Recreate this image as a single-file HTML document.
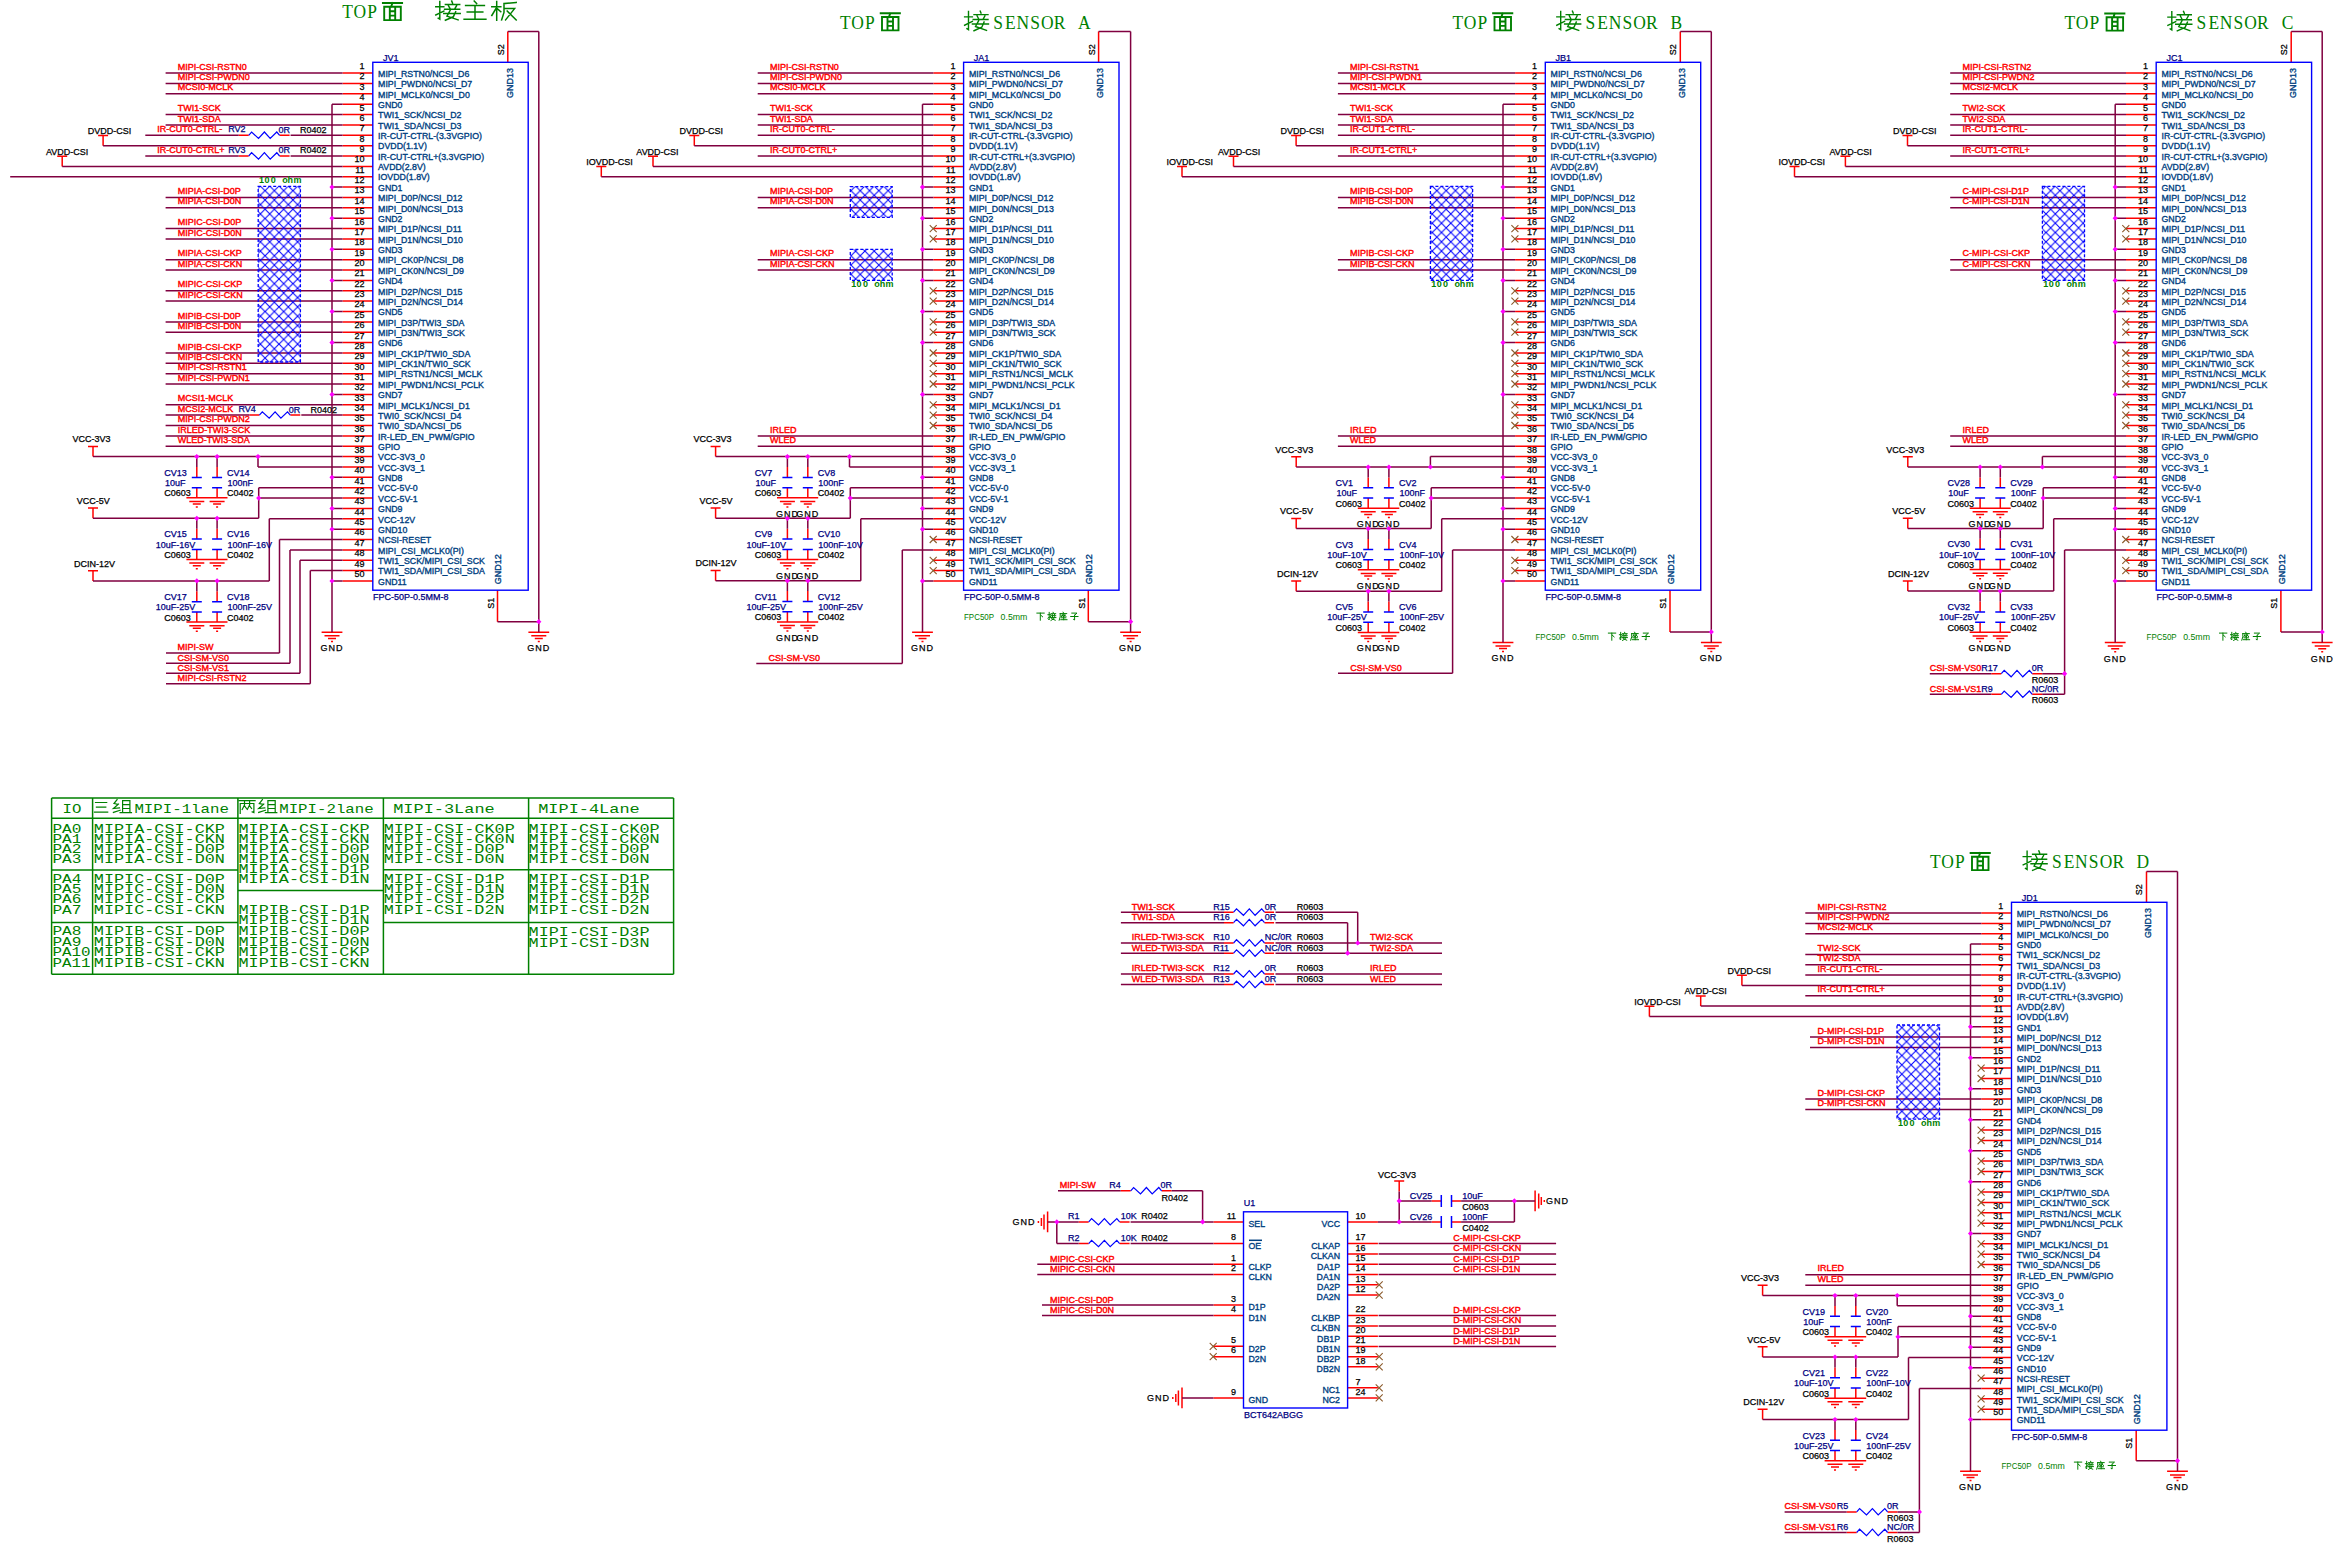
<!DOCTYPE html><html><head><meta charset="utf-8"><style>html,body{margin:0;padding:0;background:#fff;overflow:hidden;}svg{display:block}text{font-family:"Liberation Sans",sans-serif;font-size:9px}.t{font-family:"Liberation Serif",serif;font-size:19px;fill:#008000}.m{font-family:"Liberation Mono",monospace;font-size:13.2px;fill:#008000}</style></head><body>
<svg width="2340" height="1546" viewBox="0 0 2340 1546">
<defs><pattern id="hp" patternUnits="userSpaceOnUse" width="9.3" height="9.3" x="0" y="0"><path d="M0 0L9.3 9.3M9.3 0L0 9.3" stroke="#0000ff" stroke-width="1.05" fill="none"/></pattern></defs>
<rect width="2340" height="1546" fill="#fff"/>
<path d="M342.6 73.1H372.8M342.6 83.5H372.8M342.6 93.8H372.8M342.6 104.2H372.8M342.6 114.6H372.8M342.6 124.9H372.8M342.6 135.3H372.8M342.6 145.7H372.8M342.6 156H372.8M342.6 166.4H372.8M342.6 176.8H372.8M342.6 187.1H372.8M342.6 197.5H372.8M342.6 207.8H372.8M342.6 218.2H372.8M342.6 228.6H372.8M342.6 238.9H372.8M342.6 249.3H372.8M342.6 259.7H372.8M342.6 270H372.8M342.6 280.4H372.8M342.6 290.8H372.8M342.6 301.1H372.8M342.6 311.5H372.8M342.6 321.9H372.8M342.6 332.2H372.8M342.6 342.6H372.8M342.6 353H372.8M342.6 363.3H372.8M342.6 373.7H372.8M342.6 384H372.8M342.6 394.4H372.8M342.6 404.8H372.8M342.6 415.1H372.8M342.6 425.5H372.8M342.6 435.9H372.8M342.6 446.2H372.8M342.6 456.6H372.8M342.6 467H372.8M342.6 477.3H372.8M342.6 487.7H372.8M342.6 498.1H372.8M342.6 508.4H372.8M342.6 518.8H372.8M342.6 529.2H372.8M342.6 539.5H372.8M342.6 549.9H372.8M342.6 560.3H372.8M342.6 570.6H372.8M342.6 581H372.8M507.8 62.3V31.5M497.5 590.2V621.7M528.4 632.2H549.2M531.3 635.8H546.3M534.8 638.4H542.8M537.8 641.4H539.8M321.6 632.2H342.4M324.5 635.8H339.5M328 638.4H336M331 641.4H333M238.7 135.3H248.7M279.6 135.3H289.6M238.7 156H248.7M279.6 156H289.6M249.4 415.1H259.4M290.3 415.1H300.3M98.1 135.5H108.1M103.1 135.5V145.7M57.2 156.2H67.2M62.2 156.2V166.4M88 446.4H98M93 446.4V456.6M196.8 467V477.4M196.8 487.7V497.8M186.4 497.8H207.2M189.3 501.4H204.3M192.8 504H200.8M195.8 507H197.8M217.1 467V477.4M217.1 487.7V497.8M206.7 497.8H227.5M209.6 501.4H224.6M213.1 504H221.1M216.1 507H218.1M88 508.1H98M93 508.1V518.3M196.8 528.7V539.1M196.8 549.4V559.5M186.4 559.5H207.2M189.3 563.1H204.3M192.8 565.7H200.8M195.8 568.7H197.8M217.1 528.7V539.1M217.1 549.4V559.5M206.7 559.5H227.5M209.6 563.1H224.6M213.1 565.7H221.1M216.1 568.7H218.1M88 570.7H98M93 570.7V580.9M196.8 591.3V601.7M196.8 612V622.1M186.4 622.1H207.2M189.3 625.7H204.3M192.8 628.3H200.8M195.8 631.3H197.8M217.1 591.3V601.7M217.1 612V622.1M206.7 622.1H227.5M209.6 625.7H224.6M213.1 628.3H221.1M216.1 631.3H218.1M933.4 73.1H963.6M933.4 83.5H963.6M933.4 93.8H963.6M933.4 104.2H963.6M933.4 114.6H963.6M933.4 124.9H963.6M933.4 135.3H963.6M933.4 145.7H963.6M933.4 156H963.6M933.4 166.4H963.6M933.4 176.8H963.6M933.4 187.1H963.6M933.4 197.5H963.6M933.4 207.8H963.6M933.4 218.2H963.6M933.4 228.6H963.6M933.4 238.9H963.6M933.4 249.3H963.6M933.4 259.7H963.6M933.4 270H963.6M933.4 280.4H963.6M933.4 290.8H963.6M933.4 301.1H963.6M933.4 311.5H963.6M933.4 321.9H963.6M933.4 332.2H963.6M933.4 342.6H963.6M933.4 353H963.6M933.4 363.3H963.6M933.4 373.7H963.6M933.4 384H963.6M933.4 394.4H963.6M933.4 404.8H963.6M933.4 415.1H963.6M933.4 425.5H963.6M933.4 435.9H963.6M933.4 446.2H963.6M933.4 456.6H963.6M933.4 467H963.6M933.4 477.3H963.6M933.4 487.7H963.6M933.4 498.1H963.6M933.4 508.4H963.6M933.4 518.8H963.6M933.4 529.2H963.6M933.4 539.5H963.6M933.4 549.9H963.6M933.4 560.3H963.6M933.4 570.6H963.6M933.4 581H963.6M1098.6 62.3V31.5M1088.3 590.2V621.7M1120.2 632.2H1141M1123.1 635.8H1138.1M1126.6 638.4H1134.6M1129.6 641.4H1131.6M912.1 632.2H932.9M915 635.8H930M918.5 638.4H926.5M921.5 641.4H923.5M689.3 135.5H699.3M694.3 135.5V145.7M648 156.2H658M653 156.2V166.4M596.3 166.6H606.3M601.3 166.6V176.8M710.6 446.4H720.6M715.6 446.4V456.6M787.4 467V477.4M787.4 487.7V497.8M777 497.8H797.8M779.9 501.4H794.9M783.4 504H791.4M786.4 507H788.4M807.8 467V477.4M807.8 487.7V497.8M797.4 497.8H818.2M800.3 501.4H815.3M803.8 504H811.8M806.8 507H808.8M710.6 508.1H720.6M715.6 508.1V518.3M787.4 528.7V539.1M787.4 549.4V559.5M777 559.5H797.8M779.9 563.1H794.9M783.4 565.7H791.4M786.4 568.7H788.4M807.8 528.7V539.1M807.8 549.4V559.5M797.4 559.5H818.2M800.3 563.1H815.3M803.8 565.7H811.8M806.8 568.7H808.8M710.6 570.5H720.6M715.6 570.5V580.7M787.4 591.1V601.5M787.4 611.8V621.9M777 621.9H797.8M779.9 625.5H794.9M783.4 628.1H791.4M786.4 631.1H788.4M807.8 591.1V601.5M807.8 611.8V621.9M797.4 621.9H818.2M800.3 625.5H815.3M803.8 628.1H811.8M806.8 631.1H808.8M1515.1 73.1H1545.3M1515.1 83.5H1545.3M1515.1 93.8H1545.3M1515.1 104.2H1545.3M1515.1 114.6H1545.3M1515.1 124.9H1545.3M1515.1 135.3H1545.3M1515.1 145.7H1545.3M1515.1 156H1545.3M1515.1 166.4H1545.3M1515.1 176.8H1545.3M1515.1 187.1H1545.3M1515.1 197.5H1545.3M1515.1 207.8H1545.3M1515.1 218.2H1545.3M1515.1 228.6H1545.3M1515.1 238.9H1545.3M1515.1 249.3H1545.3M1515.1 259.7H1545.3M1515.1 270H1545.3M1515.1 280.4H1545.3M1515.1 290.8H1545.3M1515.1 301.1H1545.3M1515.1 311.5H1545.3M1515.1 321.9H1545.3M1515.1 332.2H1545.3M1515.1 342.6H1545.3M1515.1 353H1545.3M1515.1 363.3H1545.3M1515.1 373.7H1545.3M1515.1 384H1545.3M1515.1 394.4H1545.3M1515.1 404.8H1545.3M1515.1 415.1H1545.3M1515.1 425.5H1545.3M1515.1 435.9H1545.3M1515.1 446.2H1545.3M1515.1 456.6H1545.3M1515.1 467H1545.3M1515.1 477.3H1545.3M1515.1 487.7H1545.3M1515.1 498.1H1545.3M1515.1 508.4H1545.3M1515.1 518.8H1545.3M1515.1 529.2H1545.3M1515.1 539.5H1545.3M1515.1 549.9H1545.3M1515.1 560.3H1545.3M1515.1 570.6H1545.3M1515.1 581H1545.3M1680.3 62.3V31.5M1670 590.2V631.9M1700.9 642.4H1721.7M1703.8 646H1718.8M1707.3 648.6H1715.3M1710.3 651.6H1712.3M1492.6 642.4H1513.4M1495.5 646H1510.5M1499 648.6H1507M1502 651.6H1504M1291.1 135.5H1301.1M1296.1 135.5V145.7M1228.5 156.2H1238.5M1233.5 156.2V166.4M1177 166.6H1187M1182 166.6V176.8M1291.2 456.8H1301.2M1296.2 456.8V467M1368.2 477.4V487.8M1368.2 498.1V508.2M1357.8 508.2H1378.6M1360.7 511.8H1375.7M1364.2 514.4H1372.2M1367.2 517.4H1369.2M1388.9 477.4V487.8M1388.9 498.1V508.2M1378.5 508.2H1399.3M1381.4 511.8H1396.4M1384.9 514.4H1392.9M1387.9 517.4H1389.9M1291.2 518.4H1301.2M1296.2 518.4V528.6M1368.2 539V549.4M1368.2 559.7V569.8M1357.8 569.8H1378.6M1360.7 573.4H1375.7M1364.2 576H1372.2M1367.2 579H1369.2M1388.9 539V549.4M1388.9 559.7V569.8M1378.5 569.8H1399.3M1381.4 573.4H1396.4M1384.9 576H1392.9M1387.9 579H1389.9M1291.2 581H1301.2M1296.2 581V591.2M1368.2 601.6V612M1368.2 622.3V632.4M1357.8 632.4H1378.6M1360.7 636H1375.7M1364.2 638.6H1372.2M1367.2 641.6H1369.2M1388.9 601.6V612M1388.9 622.3V632.4M1378.5 632.4H1399.3M1381.4 636H1396.4M1384.9 638.6H1392.9M1387.9 641.6H1389.9M2126 73.1H2156.2M2126 83.5H2156.2M2126 93.8H2156.2M2126 104.2H2156.2M2126 114.6H2156.2M2126 124.9H2156.2M2126 135.3H2156.2M2126 145.7H2156.2M2126 156H2156.2M2126 166.4H2156.2M2126 176.8H2156.2M2126 187.1H2156.2M2126 197.5H2156.2M2126 207.8H2156.2M2126 218.2H2156.2M2126 228.6H2156.2M2126 238.9H2156.2M2126 249.3H2156.2M2126 259.7H2156.2M2126 270H2156.2M2126 280.4H2156.2M2126 290.8H2156.2M2126 301.1H2156.2M2126 311.5H2156.2M2126 321.9H2156.2M2126 332.2H2156.2M2126 342.6H2156.2M2126 353H2156.2M2126 363.3H2156.2M2126 373.7H2156.2M2126 384H2156.2M2126 394.4H2156.2M2126 404.8H2156.2M2126 415.1H2156.2M2126 425.5H2156.2M2126 435.9H2156.2M2126 446.2H2156.2M2126 456.6H2156.2M2126 467H2156.2M2126 477.3H2156.2M2126 487.7H2156.2M2126 498.1H2156.2M2126 508.4H2156.2M2126 518.8H2156.2M2126 529.2H2156.2M2126 539.5H2156.2M2126 549.9H2156.2M2126 560.3H2156.2M2126 570.6H2156.2M2126 581H2156.2M2291.2 62.3V31.5M2280.9 590.2V632M2311.8 642.5H2332.6M2314.7 646.1H2329.7M2318.2 648.7H2326.2M2321.2 651.7H2323.2M2104.8 642.5H2125.6M2107.7 646.1H2122.7M2111.2 648.7H2119.2M2114.2 651.7H2116.2M1902.5 135.5H1912.5M1907.5 135.5V145.7M1840.4 156.2H1850.4M1845.4 156.2V166.4M1789.5 166.6H1799.5M1794.5 166.6V176.8M1902.8 456.8H1912.8M1907.8 456.8V467M1980.1 477.4V487.8M1980.1 498.1V508.2M1969.7 508.2H1990.5M1972.6 511.8H1987.6M1976.1 514.4H1984.1M1979.1 517.4H1981.1M2000.3 477.4V487.8M2000.3 498.1V508.2M1989.9 508.2H2010.7M1992.8 511.8H2007.8M1996.3 514.4H2004.3M1999.3 517.4H2001.3M1902.8 518.2H1912.8M1907.8 518.2V528.4M1980.1 538.8V549.2M1980.1 559.5V569.6M1969.7 569.6H1990.5M1972.6 573.2H1987.6M1976.1 575.8H1984.1M1979.1 578.8H1981.1M2000.3 538.8V549.2M2000.3 559.5V569.6M1989.9 569.6H2010.7M1992.8 573.2H2007.8M1996.3 575.8H2004.3M1999.3 578.8H2001.3M1902.8 580.9H1912.8M1907.8 580.9V591.1M1980.1 601.5V611.9M1980.1 622.2V632.3M1969.7 632.3H1990.5M1972.6 635.9H1987.6M1976.1 638.5H1984.1M1979.1 641.5H1981.1M2000.3 601.5V611.9M2000.3 622.2V632.3M1989.9 632.3H2010.7M1992.8 635.9H2007.8M1996.3 638.5H2004.3M1999.3 641.5H2001.3M1991.3 673.7H2001.3M2032.2 673.7H2042.2M1991.3 694.3H2001.3M2032.2 694.3H2042.2M1981.3 913.1H2011.5M1981.3 923.4H2011.5M1981.3 933.8H2011.5M1981.3 944.1H2011.5M1981.3 954.4H2011.5M1981.3 964.8H2011.5M1981.3 975.1H2011.5M1981.3 985.4H2011.5M1981.3 995.8H2011.5M1981.3 1006.1H2011.5M1981.3 1016.5H2011.5M1981.3 1026.8H2011.5M1981.3 1037.1H2011.5M1981.3 1047.5H2011.5M1981.3 1057.8H2011.5M1981.3 1068.1H2011.5M1981.3 1078.5H2011.5M1981.3 1088.8H2011.5M1981.3 1099.1H2011.5M1981.3 1109.5H2011.5M1981.3 1119.8H2011.5M1981.3 1130.1H2011.5M1981.3 1140.5H2011.5M1981.3 1150.8H2011.5M1981.3 1161.1H2011.5M1981.3 1171.5H2011.5M1981.3 1181.8H2011.5M1981.3 1192.1H2011.5M1981.3 1202.5H2011.5M1981.3 1212.8H2011.5M1981.3 1223.2H2011.5M1981.3 1233.5H2011.5M1981.3 1243.8H2011.5M1981.3 1254.2H2011.5M1981.3 1264.5H2011.5M1981.3 1274.8H2011.5M1981.3 1285.2H2011.5M1981.3 1295.5H2011.5M1981.3 1305.8H2011.5M1981.3 1316.2H2011.5M1981.3 1326.5H2011.5M1981.3 1336.8H2011.5M1981.3 1347.2H2011.5M1981.3 1357.5H2011.5M1981.3 1367.8H2011.5M1981.3 1378.2H2011.5M1981.3 1388.5H2011.5M1981.3 1398.8H2011.5M1981.3 1409.2H2011.5M1981.3 1419.5H2011.5M2146.5 902.3V871.5M2136.2 1430.2V1460.8M2167.1 1471.3H2187.9M2170 1474.9H2185M2173.5 1477.5H2181.5M2176.5 1480.5H2178.5M1960.1 1471.3H1980.9M1963 1474.9H1978M1966.5 1477.5H1974.5M1969.5 1480.5H1971.5M1736.9 975.2H1746.9M1741.9 975.2V985.4M1695.7 995.9H1705.7M1700.7 995.9V1006.1M1644.4 1006.2H1654.4M1649.4 1006.2V1016.5M1757.6 1285.3H1767.6M1762.6 1285.3V1295.5M1835 1305.9V1316.3M1835 1326.6V1336.7M1824.6 1336.7H1845.4M1827.5 1340.3H1842.5M1831 1342.9H1839M1834 1345.9H1836M1855.8 1305.9V1316.3M1855.8 1326.6V1336.7M1845.4 1336.7H1866.2M1848.3 1340.3H1863.3M1851.8 1342.9H1859.8M1854.8 1345.9H1856.8M1757.6 1346.8H1767.6M1762.6 1346.8V1357M1835 1367.4V1377.8M1835 1388.1V1398.2M1824.6 1398.2H1845.4M1827.5 1401.8H1842.5M1831 1404.4H1839M1834 1407.4H1836M1855.8 1367.4V1377.8M1855.8 1388.1V1398.2M1845.4 1398.2H1866.2M1848.3 1401.8H1863.3M1851.8 1404.4H1859.8M1854.8 1407.4H1856.8M1757.6 1409.3H1767.6M1762.6 1409.3V1419.5M1835 1429.9V1440.3M1835 1450.6V1460.7M1824.6 1460.7H1845.4M1827.5 1464.3H1842.5M1831 1466.9H1839M1834 1469.9H1836M1855.8 1429.9V1440.3M1855.8 1450.6V1460.7M1845.4 1460.7H1866.2M1848.3 1464.3H1863.3M1851.8 1466.9H1859.8M1854.8 1469.9H1856.8M1846.7 1511.9H1856.7M1887.6 1511.9H1897.6M1846.7 1532.5H1856.7M1887.6 1532.5H1897.6M1224 912.2H1233.6M1264.5 912.2H1274.1M1224 922.7H1233.6M1264.5 922.7H1274.1M1224 943H1233.6M1264.5 943H1274.1M1224 953.2H1233.6M1264.5 953.2H1274.1M1224 974H1233.6M1264.5 974H1274.1M1224 984.5H1233.6M1264.5 984.5H1274.1M1213.5 1221.9H1243.5M1213.5 1243.6H1243.5M1213.5 1264.3H1243.5M1213.5 1274.6H1243.5M1213.5 1305.1H1243.5M1213.5 1315.5H1243.5M1213.5 1346.3H1243.5M1213.5 1356.7H1243.5M1213.5 1397.9H1243.5M1347.6 1221.9H1377.9M1347.6 1243.6H1377.9M1347.6 1254H1377.9M1347.6 1264.3H1377.9M1347.6 1274.6H1377.9M1347.6 1284.8H1377.9M1347.6 1295.1H1377.9M1347.6 1315.5H1377.9M1347.6 1325.9H1377.9M1347.6 1336.2H1377.9M1347.6 1346.4H1377.9M1347.6 1356.7H1377.9M1347.6 1366.8H1377.9M1347.6 1387.8H1377.9M1347.6 1397.9H1377.9M1120.7 1190.8H1130.7M1161.6 1190.8H1171.6M1047.6 1211.5V1232.3M1044 1214.4V1229.4M1041.4 1217.9V1225.9M1038.4 1220.9V1222.9M1078.7 1221.9H1088.7M1119.6 1221.9H1129.6M1078.7 1243.6H1088.7M1119.6 1243.6H1129.6M1182 1387.5V1408.3M1178.4 1390.4V1405.4M1175.8 1393.9V1401.9M1172.8 1396.9V1398.9M1394.2 1181H1404.2M1399.2 1181V1191.4M1431.7 1200.9H1441.3M1451.5 1200.9H1461.1M1431.7 1221.9H1441.3M1451.5 1221.9H1461.1M1535.1 1190.5V1211.3M1538.7 1193.4V1208.4M1541.3 1196.9V1204.9M1544.3 1199.9V1201.9" fill="none" stroke="#ff0000" stroke-width="1.5"/>
<path d="M507.8 31.5H538.8M538.8 31.5V632.2M497.5 621.7H538.8M332 104.2H342.6M332 187.1H342.6M332 218.2H342.6M332 249.3H342.6M332 280.4H342.6M332 311.5H342.6M332 342.6H342.6M332 394.4H342.6M332 477.3H342.6M332 508.4H342.6M332 529.2H342.6M332 581H342.6M332 104.2V632.2M165.6 73.1H342.6M165.6 83.5H342.6M165.6 93.8H342.6M165.6 114.6H342.6M165.6 124.9H342.6M165.6 197.5H342.6M165.6 207.8H342.6M165.6 228.6H342.6M165.6 238.9H342.6M165.6 259.7H342.6M165.6 270H342.6M165.6 290.8H342.6M165.6 301.1H342.6M165.6 321.9H342.6M165.6 332.2H342.6M165.6 353H342.6M165.6 363.3H342.6M165.6 373.7H342.6M165.6 384H342.6M165.6 404.8H342.6M165.6 425.5H342.6M165.6 435.9H342.6M165.6 446.2H342.6M145.3 135.3H238.7M290.6 135.3H342.6M145.3 156H238.7M290.6 156H342.6M165.6 415.1H249.4M301.3 415.1H342.6M103.1 145.7H342.6M62.2 166.4H342.6M10.2 176.8H342.6M93 456.6H342.6M258 456.6V467M258 467H342.6M196.8 456.6V467M217.1 456.6V467M93 518.3H258.7M258.7 487.7V518.3M258.7 487.7H342.6M258.7 498.1H342.6M196.8 518.3V528.7M217.1 518.3V528.7M93 580.9H269.3M269.3 518.8V580.9M269.3 518.8H342.6M196.8 580.9V591.3M217.1 580.9V591.3M279.5 539.5H342.6M279.5 539.5V653M166 653H279.5M290 549.9H342.6M290 549.9V663.2M166 663.2H290M300 560.3H342.6M300 560.3V673.2M166 673.2H300M310.3 570.6H342.6M310.3 570.6V683.7M166 683.7H310.3M1098.6 31.5H1130.6M1130.6 31.5V632.2M1088.3 621.7H1130.6M922.5 104.2H933.4M922.5 187.1H933.4M922.5 218.2H933.4M922.5 249.3H933.4M922.5 280.4H933.4M922.5 311.5H933.4M922.5 342.6H933.4M922.5 394.4H933.4M922.5 477.3H933.4M922.5 508.4H933.4M922.5 529.2H933.4M922.5 581H933.4M922.5 104.2V632.2M757.7 73.1H933.4M757.7 83.5H933.4M757.7 93.8H933.4M757.7 114.6H933.4M757.7 124.9H933.4M757.7 135.3H933.4M757.7 156H933.4M757.7 197.5H933.4M757.7 207.8H933.4M757.7 259.7H933.4M757.7 270H933.4M757.7 435.9H933.4M757.7 446.2H933.4M694.3 145.7H933.4M653 166.4H933.4M601.3 176.8H933.4M715.6 456.6H933.4M849.5 456.6V467M849.5 467H933.4M787.4 456.6V467M807.8 456.6V467M715.6 518.3H850.3M850.3 487.7V518.3M850.3 487.7H933.4M850.3 498.1H933.4M787.4 518.3V528.7M807.8 518.3V528.7M715.6 580.7H860.8M860.8 518.8V580.7M860.8 518.8H933.4M787.4 580.7V591.1M807.8 580.7V591.1M902.3 549.9H933.4M902.3 549.9V663.4M756.3 663.4H902.3M1680.3 31.5H1711.3M1711.3 31.5V642.4M1670 631.9H1711.3M1503 104.2H1515.1M1503 187.1H1515.1M1503 218.2H1515.1M1503 249.3H1515.1M1503 280.4H1515.1M1503 311.5H1515.1M1503 342.6H1515.1M1503 394.4H1515.1M1503 477.3H1515.1M1503 508.4H1515.1M1503 529.2H1515.1M1503 581H1515.1M1503 104.2V642.4M1337.9 73.1H1515.1M1337.9 83.5H1515.1M1337.9 93.8H1515.1M1337.9 114.6H1515.1M1337.9 124.9H1515.1M1337.9 135.3H1515.1M1337.9 156H1515.1M1337.9 197.5H1515.1M1337.9 207.8H1515.1M1337.9 259.7H1515.1M1337.9 270H1515.1M1337.9 435.9H1515.1M1337.9 446.2H1515.1M1296.1 145.7H1515.1M1233.5 166.4H1515.1M1182 176.8H1515.1M1296.2 467H1515.1M1430.4 456.6V467M1430.4 456.6H1515.1M1368.2 467V477.4M1388.9 467V477.4M1296.2 528.6H1431.2M1431.2 487.7V528.6M1431.2 487.7H1515.1M1431.2 498.1H1515.1M1368.2 528.6V539M1388.9 528.6V539M1296.2 591.2H1441.7M1441.7 518.8V591.2M1441.7 518.8H1515.1M1368.2 591.2V601.6M1388.9 591.2V601.6M1452.6 549.9H1515.1M1452.6 549.9V673.3M1338 673.3H1452.6M2291.2 31.5H2322.2M2322.2 31.5V642.5M2280.9 632H2322.2M2115.2 104.2H2126M2115.2 187.1H2126M2115.2 218.2H2126M2115.2 249.3H2126M2115.2 280.4H2126M2115.2 311.5H2126M2115.2 342.6H2126M2115.2 394.4H2126M2115.2 477.3H2126M2115.2 508.4H2126M2115.2 529.2H2126M2115.2 581H2126M2115.2 104.2V642.5M1950.2 73.1H2126M1950.2 83.5H2126M1950.2 93.8H2126M1950.2 114.6H2126M1950.2 124.9H2126M1950.2 135.3H2126M1950.2 156H2126M1950.2 197.5H2126M1950.2 207.8H2126M1950.2 259.7H2126M1950.2 270H2126M1950.2 435.9H2126M1950.2 446.2H2126M1907.5 145.7H2126M1845.4 166.4H2126M1794.5 176.8H2126M1907.8 467H2126M2042.4 456.6V467M2042.4 456.6H2126M1980.1 467V477.4M2000.3 467V477.4M1907.8 528.4H2043.2M2043.2 487.7V528.4M2043.2 487.7H2126M2043.2 498.1H2126M1980.1 528.4V538.8M2000.3 528.4V538.8M1907.8 591.1H2053.7M2053.7 518.8V591.1M2053.7 518.8H2126M1980.1 591.1V601.5M2000.3 591.1V601.5M2064.6 549.9H2126M2064.6 549.9V694.3M1929.8 673.7H1991.3M2042.2 673.7H2064.6M1929.8 694.3H1991.3M2042.2 694.3H2064.6M2146.5 871.5H2177.5M2177.5 871.5V1471.3M2136.2 1460.8H2177.5M1970.5 944.1H1981.3M1970.5 1026.8H1981.3M1970.5 1057.8H1981.3M1970.5 1088.8H1981.3M1970.5 1119.8H1981.3M1970.5 1150.8H1981.3M1970.5 1181.8H1981.3M1970.5 1233.5H1981.3M1970.5 1316.2H1981.3M1970.5 1347.2H1981.3M1970.5 1367.8H1981.3M1970.5 1419.5H1981.3M1970.5 944.1V1471.3M1805.3 913.1H1981.3M1805.3 923.4H1981.3M1805.3 933.8H1981.3M1805.3 954.4H1981.3M1805.3 964.8H1981.3M1805.3 975.1H1981.3M1805.3 995.8H1981.3M1810 1037.1H1981.3M1810 1047.5H1981.3M1805.3 1099.1H1981.3M1805.3 1109.5H1981.3M1805.3 1274.8H1981.3M1805.3 1285.2H1981.3M1741.9 985.4H1981.3M1700.7 1006.1H1981.3M1649.4 1016.5H1981.3M1762.6 1295.5H1981.3M1897.2 1295.5V1305.8M1897.2 1305.8H1981.3M1835 1295.5V1305.9M1855.8 1295.5V1305.9M1762.6 1357H1898M1898 1326.5V1357M1898 1326.5H1981.3M1898 1336.8H1981.3M1835 1357V1367.4M1855.8 1357V1367.4M1762.6 1419.5H1908.5M1908.5 1357.5V1419.5M1908.5 1357.5H1981.3M1835 1419.5V1429.9M1855.8 1419.5V1429.9M1919.4 1388.5H1981.3M1919.4 1388.5V1532.5M1784.6 1511.9H1846.7M1897.6 1511.9H1919.4M1784.6 1532.5H1846.7M1897.6 1532.5H1919.4M1120.9 912.2H1224M1275.5 912.2H1357.7M1357.7 912.2V943M1120.9 922.7H1224M1275.5 922.7H1347.6M1347.6 922.7V953.2M1120.9 943H1224M1275.5 943H1442M1120.9 953.2H1224M1275.5 953.2H1442M1120.9 974H1224M1275.5 974H1442M1120.9 984.5H1224M1275.5 984.5H1442M1378.6 1243.6H1556.1M1378.6 1254H1556.1M1378.6 1264.3H1556.1M1378.6 1274.6H1556.1M1378.6 1315.5H1556.1M1378.6 1325.9H1556.1M1378.6 1336.2H1556.1M1378.6 1346.4H1556.1M1037.3 1264.3H1213.5M1037.3 1274.6H1213.5M1042 1305.1H1213.5M1042 1315.5H1213.5M1058 1190.8H1120.7M1171.6 1190.8H1202.6M1202.6 1190.8V1221.9M1047.6 1221.9H1078.7M1056.8 1221.9V1243.6M1056.8 1243.6H1078.7M1130.6 1221.9H1213.5M1130.6 1243.6H1213.5M1182 1397.9H1213.5M1399.2 1191.4V1221.9M1377.9 1221.9H1431.7M1399.2 1200.9H1431.7M1461.1 1200.9H1514.4M1461.1 1221.9H1514.4M1514.4 1200.9V1221.9M1514.4 1200.9H1535.1" fill="none" stroke="#800040" stroke-width="1.5"/>
<path d="M191.8 477.4H201.8M191.8 487.7H201.8M212.1 477.4H222.1M212.1 487.7H222.1M191.8 539.1H201.8M191.8 549.4H201.8M212.1 539.1H222.1M212.1 549.4H222.1M191.8 601.7H201.8M191.8 612H201.8M212.1 601.7H222.1M212.1 612H222.1M782.4 477.4H792.4M782.4 487.7H792.4M802.8 477.4H812.8M802.8 487.7H812.8M782.4 539.1H792.4M782.4 549.4H792.4M802.8 539.1H812.8M802.8 549.4H812.8M782.4 601.5H792.4M782.4 611.8H792.4M802.8 601.5H812.8M802.8 611.8H812.8M1363.2 487.8H1373.2M1363.2 498.1H1373.2M1383.9 487.8H1393.9M1383.9 498.1H1393.9M1363.2 549.4H1373.2M1363.2 559.7H1373.2M1383.9 549.4H1393.9M1383.9 559.7H1393.9M1363.2 612H1373.2M1363.2 622.3H1373.2M1383.9 612H1393.9M1383.9 622.3H1393.9M1975.1 487.8H1985.1M1975.1 498.1H1985.1M1995.3 487.8H2005.3M1995.3 498.1H2005.3M1975.1 549.2H1985.1M1975.1 559.5H1985.1M1995.3 549.2H2005.3M1995.3 559.5H2005.3M1975.1 611.9H1985.1M1975.1 622.2H1985.1M1995.3 611.9H2005.3M1995.3 622.2H2005.3M1830 1316.3H1840M1830 1326.6H1840M1850.8 1316.3H1860.8M1850.8 1326.6H1860.8M1830 1377.8H1840M1830 1388.1H1840M1850.8 1377.8H1860.8M1850.8 1388.1H1860.8M1830 1440.3H1840M1830 1450.6H1840M1850.8 1440.3H1860.8M1850.8 1450.6H1860.8M1441.3 1194.9V1206.9M1451.5 1194.9V1206.9M1441.3 1215.9V1227.9M1451.5 1215.9V1227.9" fill="none" stroke="#0000ff" stroke-width="1.5"/>
<path d="M51.6 798H673.6M51.6 818.3H673.6M51.6 974.2H673.6M51.6 798V974.2M92.6 798V974.2M237.9 798V974.2M383.4 798V974.2M528.6 798V974.2M673.6 798V974.2M51.6 869.9H237.9M51.6 922.5H237.9M237.9 890.4H383.4M383.4 869.8H673.6M383.4 922.4H673.6" fill="none" stroke="#008000" stroke-width="1.5"/>
<path d="M1249 1240.3H1262" fill="none" stroke="#00407f" stroke-width="1.5"/>
<rect x="372.8" y="62.3" width="155.4" height="527.9" fill="none" stroke="#0000ff" stroke-width="1.4"/>
<path d="M382.9 3 L402.1 3M392.5 3 L391.1 6.7M384.2 6.7 L400.8 6.7 L400.8 20.1M384.2 6.7 L384.2 20.1 L400.8 20.1M389.8 6.7 L389.8 20.1M395.2 6.7 L395.2 20.1M389.8 11.2 L395.2 11.2M389.8 15.6 L395.2 15.6" fill="none" stroke="#008000" stroke-width="1.9" stroke-linecap="square"/>
<path d="M435.8 6.8 L443.8 6.8M439.8 1.5 L439.8 19.2 L438.2 18.2M435.8 14.9 L443.8 11.1M451.7 1.1 L452.5 3M445.4 4.5 L459.7 4.5M448.5 5.8 L450.1 8.6M456.5 5.8 L454.9 8.6M444.6 9.2 L459.7 9.2M443.8 13.6 L460.2 13.6M450.1 10.5 L447 16.1 L458.1 19.9M455.7 11.8 L453.3 16.8 L445.4 20.2" fill="none" stroke="#008000" stroke-width="1.5" stroke-linecap="square"/>
<path d="M474.2 1.1 L476.6 3.6M465.6 5.5 L484.4 5.5M467.2 12 L482.8 12M464.1 19.2 L485.9 19.2M475 5.5 L475 19.2" fill="none" stroke="#008000" stroke-width="1.5" stroke-linecap="square"/>
<path d="M491.8 6.8 L500.8 6.8M496.7 1.5 L496.7 20.2M496.7 7.4 L491.8 15.5M497.2 8.6 L500.8 11.8M504 3.6 L516.2 2.4M504 3.6 L504 12.4 L501.6 19.9M504.8 8.6 L514.6 8.6 L505.6 19.9M507.2 11.1 L516.2 19.9" fill="none" stroke="#008000" stroke-width="1.5" stroke-linecap="square"/>
<path d="M248.7 135.3 L251.6 132 L258.5 138.4 L264.4 132 L270.2 138.4 L276.8 132 L279.6 135.3" fill="none" stroke="#0000ff" stroke-width="1.2"/>
<path d="M248.7 156 L251.6 152.7 L258.5 159.1 L264.4 152.7 L270.2 159.1 L276.8 152.7 L279.6 156" fill="none" stroke="#0000ff" stroke-width="1.2"/>
<path d="M259.4 415.1 L262.3 411.8 L269.2 418.2 L275.1 411.8 L280.9 418.2 L287.5 411.8 L290.3 415.1" fill="none" stroke="#0000ff" stroke-width="1.2"/>
<rect x="258.2" y="186.4" width="42.2" height="175.6" fill="url(#hp)" stroke="#0000ff" stroke-width="1.3" stroke-dasharray="3 2"/>
<path d="M880.7 13.3 L899.9 13.3M890.3 13.3 L888.9 17M882 17 L898.5 17 L898.5 30.4M882 17 L882 30.4 L898.5 30.4M887.5 17 L887.5 30.4M893 17 L893 30.4M887.5 21.5 L893 21.5M887.5 25.9 L893 25.9" fill="none" stroke="#008000" stroke-width="1.9" stroke-linecap="square"/>
<path d="M964.6 16.9 L972.4 16.9M968.5 11.5 L968.5 29.7 L966.9 28.7M964.6 25.2 L972.4 21.4M980.2 11.1 L981 13.1M974 14.6 L988 14.6M977.1 15.9 L978.6 18.8M984.9 15.9 L983.3 18.8M973.2 19.5 L988 19.5M972.4 24 L988.5 24M978.6 20.8 L975.5 26.5 L986.5 30.4M984.1 22 L981.8 27.2 L974 30.7" fill="none" stroke="#008000" stroke-width="1.4" stroke-linecap="square"/>
<rect x="963.6" y="62.3" width="155.4" height="527.9" fill="none" stroke="#0000ff" stroke-width="1.4"/>
<path d="M1036.9 613.1 L1044.2 613.1M1040.3 613.1 L1040.3 620.2M1040.8 615.2 L1042.6 616.8" fill="none" stroke="#008000" stroke-width="1" stroke-linecap="square"/>
<path d="M1047.9 614.7 L1050.5 614.7M1049.2 612.4 L1049.2 620 L1048.7 619.5M1047.9 618.1 L1050.5 616.5M1053.1 612.3 L1053.4 613.1M1051 613.7 L1055.7 613.7M1052.1 614.2 L1052.6 615.5M1054.7 614.2 L1054.2 615.5M1050.8 615.7 L1055.7 615.7M1050.5 617.6 L1055.9 617.6M1052.6 616.2 L1051.6 618.6 L1055.2 620.2M1054.4 616.8 L1053.6 618.9 L1051 620.4" fill="none" stroke="#008000" stroke-width="1" stroke-linecap="square"/>
<path d="M1063.1 612.2 L1063.6 613.1M1060.2 613.6 L1066.7 613.6M1060.2 613.6 L1060.2 616.8 L1059.2 620.2M1062.3 614.7 L1061.3 616.8M1062.3 615.2 L1063.1 616.5M1064.9 614.7 L1063.9 616.8M1064.9 615.2 L1065.9 616.5M1063.7 614.4 L1063.7 619.7M1061.5 617.8 L1065.9 617.8M1060.8 619.7 L1067 619.7" fill="none" stroke="#008000" stroke-width="1" stroke-linecap="square"/>
<path d="M1071.8 613.1 L1077 613.1 L1074.6 615.2M1074.6 615.2 L1074.6 620 L1073.6 619.4M1070.7 616.5 L1078 616.5" fill="none" stroke="#008000" stroke-width="1" stroke-linecap="square"/>
<rect x="850.3" y="186.6" width="41.9" height="30.8" fill="url(#hp)" stroke="#0000ff" stroke-width="1.3" stroke-dasharray="3 2"/>
<rect x="850.3" y="249.4" width="41.9" height="30.9" fill="url(#hp)" stroke="#0000ff" stroke-width="1.3" stroke-dasharray="3 2"/>
<path d="M929.7 225.1l7 7M929.7 232.1l7 -7" stroke="#8b5a2b" stroke-width="1.1"/>
<path d="M929.7 235.4l7 7M929.7 242.4l7 -7" stroke="#8b5a2b" stroke-width="1.1"/>
<path d="M929.7 287.3l7 7M929.7 294.3l7 -7" stroke="#8b5a2b" stroke-width="1.1"/>
<path d="M929.7 297.6l7 7M929.7 304.6l7 -7" stroke="#8b5a2b" stroke-width="1.1"/>
<path d="M929.7 318.4l7 7M929.7 325.4l7 -7" stroke="#8b5a2b" stroke-width="1.1"/>
<path d="M929.7 328.7l7 7M929.7 335.7l7 -7" stroke="#8b5a2b" stroke-width="1.1"/>
<path d="M929.7 349.5l7 7M929.7 356.5l7 -7" stroke="#8b5a2b" stroke-width="1.1"/>
<path d="M929.7 359.8l7 7M929.7 366.8l7 -7" stroke="#8b5a2b" stroke-width="1.1"/>
<path d="M929.7 370.2l7 7M929.7 377.2l7 -7" stroke="#8b5a2b" stroke-width="1.1"/>
<path d="M929.7 380.5l7 7M929.7 387.5l7 -7" stroke="#8b5a2b" stroke-width="1.1"/>
<path d="M929.7 401.3l7 7M929.7 408.3l7 -7" stroke="#8b5a2b" stroke-width="1.1"/>
<path d="M929.7 411.6l7 7M929.7 418.6l7 -7" stroke="#8b5a2b" stroke-width="1.1"/>
<path d="M929.7 422l7 7M929.7 429l7 -7" stroke="#8b5a2b" stroke-width="1.1"/>
<path d="M929.7 536l7 7M929.7 543l7 -7" stroke="#8b5a2b" stroke-width="1.1"/>
<path d="M929.7 556.8l7 7M929.7 563.8l7 -7" stroke="#8b5a2b" stroke-width="1.1"/>
<path d="M929.7 567.1l7 7M929.7 574.1l7 -7" stroke="#8b5a2b" stroke-width="1.1"/>
<path d="M1493.1 13.3 L1512.3 13.3M1502.7 13.3 L1501.3 17M1494.5 17 L1511 17 L1511 30.4M1494.5 17 L1494.5 30.4 L1511 30.4M1500 17 L1500 30.4M1505.5 17 L1505.5 30.4M1500 21.5 L1505.5 21.5M1500 25.9 L1505.5 25.9" fill="none" stroke="#008000" stroke-width="1.9" stroke-linecap="square"/>
<path d="M1556.8 16.9 L1564.6 16.9M1560.7 11.5 L1560.7 29.7 L1559.1 28.7M1556.8 25.2 L1564.6 21.4M1572.4 11.1 L1573.2 13.1M1566.2 14.6 L1580.2 14.6M1569.3 15.9 L1570.8 18.8M1577.1 15.9 L1575.5 18.8M1565.4 19.5 L1580.2 19.5M1564.6 24 L1580.7 24M1570.8 20.8 L1567.7 26.5 L1578.7 30.4M1576.3 22 L1574 27.2 L1566.2 30.7" fill="none" stroke="#008000" stroke-width="1.4" stroke-linecap="square"/>
<rect x="1545.3" y="62.3" width="155.4" height="527.9" fill="none" stroke="#0000ff" stroke-width="1.4"/>
<path d="M1608.4 633.1 L1615.7 633.1M1611.8 633.1 L1611.8 640.2M1612.3 635.2 L1614.1 636.8" fill="none" stroke="#008000" stroke-width="1" stroke-linecap="square"/>
<path d="M1619.4 634.7 L1622 634.7M1620.7 632.4 L1620.7 640 L1620.2 639.5M1619.4 638.1 L1622 636.5M1624.6 632.3 L1624.9 633.1M1622.5 633.7 L1627.2 633.7M1623.6 634.2 L1624.1 635.5M1626.2 634.2 L1625.7 635.5M1622.3 635.7 L1627.2 635.7M1622 637.6 L1627.4 637.6M1624.1 636.2 L1623.1 638.6 L1626.7 640.2M1625.9 636.8 L1625.1 638.9 L1622.5 640.4" fill="none" stroke="#008000" stroke-width="1" stroke-linecap="square"/>
<path d="M1634.6 632.2 L1635.1 633.1M1631.7 633.6 L1638.2 633.6M1631.7 633.6 L1631.7 636.8 L1630.7 640.2M1633.8 634.7 L1632.8 636.8M1633.8 635.2 L1634.6 636.5M1636.4 634.7 L1635.4 636.8M1636.4 635.2 L1637.4 636.5M1635.2 634.4 L1635.2 639.7M1633 637.8 L1637.4 637.8M1632.3 639.7 L1638.5 639.7" fill="none" stroke="#008000" stroke-width="1" stroke-linecap="square"/>
<path d="M1643.3 633.1 L1648.5 633.1 L1646.1 635.2M1646.1 635.2 L1646.1 640 L1645.1 639.4M1642.2 636.5 L1649.5 636.5" fill="none" stroke="#008000" stroke-width="1" stroke-linecap="square"/>
<rect x="1430.4" y="186.3" width="42.2" height="94.1" fill="url(#hp)" stroke="#0000ff" stroke-width="1.3" stroke-dasharray="3 2"/>
<path d="M1511.4 225.1l7 7M1511.4 232.1l7 -7" stroke="#8b5a2b" stroke-width="1.1"/>
<path d="M1511.4 235.4l7 7M1511.4 242.4l7 -7" stroke="#8b5a2b" stroke-width="1.1"/>
<path d="M1511.4 287.3l7 7M1511.4 294.3l7 -7" stroke="#8b5a2b" stroke-width="1.1"/>
<path d="M1511.4 297.6l7 7M1511.4 304.6l7 -7" stroke="#8b5a2b" stroke-width="1.1"/>
<path d="M1511.4 318.4l7 7M1511.4 325.4l7 -7" stroke="#8b5a2b" stroke-width="1.1"/>
<path d="M1511.4 328.7l7 7M1511.4 335.7l7 -7" stroke="#8b5a2b" stroke-width="1.1"/>
<path d="M1511.4 349.5l7 7M1511.4 356.5l7 -7" stroke="#8b5a2b" stroke-width="1.1"/>
<path d="M1511.4 359.8l7 7M1511.4 366.8l7 -7" stroke="#8b5a2b" stroke-width="1.1"/>
<path d="M1511.4 370.2l7 7M1511.4 377.2l7 -7" stroke="#8b5a2b" stroke-width="1.1"/>
<path d="M1511.4 380.5l7 7M1511.4 387.5l7 -7" stroke="#8b5a2b" stroke-width="1.1"/>
<path d="M1511.4 401.3l7 7M1511.4 408.3l7 -7" stroke="#8b5a2b" stroke-width="1.1"/>
<path d="M1511.4 411.6l7 7M1511.4 418.6l7 -7" stroke="#8b5a2b" stroke-width="1.1"/>
<path d="M1511.4 422l7 7M1511.4 429l7 -7" stroke="#8b5a2b" stroke-width="1.1"/>
<path d="M1511.4 536l7 7M1511.4 543l7 -7" stroke="#8b5a2b" stroke-width="1.1"/>
<path d="M1511.4 556.8l7 7M1511.4 563.8l7 -7" stroke="#8b5a2b" stroke-width="1.1"/>
<path d="M1511.4 567.1l7 7M1511.4 574.1l7 -7" stroke="#8b5a2b" stroke-width="1.1"/>
<path d="M2105.2 13.5 L2124.4 13.5M2114.8 13.5 L2113.4 17.2M2106.6 17.2 L2123.1 17.2 L2123.1 30.6M2106.6 17.2 L2106.6 30.6 L2123.1 30.6M2112.1 17.2 L2112.1 30.6M2117.6 17.2 L2117.6 30.6M2112.1 21.7 L2117.6 21.7M2112.1 26.1 L2117.6 26.1" fill="none" stroke="#008000" stroke-width="1.9" stroke-linecap="square"/>
<path d="M2167.9 17.1 L2175.7 17.1M2171.8 11.7 L2171.8 29.9 L2170.2 28.9M2167.9 25.4 L2175.7 21.6M2183.5 11.3 L2184.3 13.3M2177.3 14.8 L2191.3 14.8M2180.4 16.1 L2181.9 19M2188.2 16.1 L2186.6 19M2176.5 19.7 L2191.3 19.7M2175.7 24.2 L2191.8 24.2M2181.9 20.9 L2178.8 26.7 L2189.8 30.6M2187.4 22.2 L2185.1 27.4 L2177.3 30.9" fill="none" stroke="#008000" stroke-width="1.4" stroke-linecap="square"/>
<rect x="2156.2" y="62.3" width="155.4" height="527.9" fill="none" stroke="#0000ff" stroke-width="1.4"/>
<path d="M2219.5 633.1 L2226.8 633.1M2222.9 633.1 L2222.9 640.2M2223.4 635.2 L2225.2 636.8" fill="none" stroke="#008000" stroke-width="1" stroke-linecap="square"/>
<path d="M2230.5 634.7 L2233.1 634.7M2231.8 632.4 L2231.8 640 L2231.3 639.5M2230.5 638.1 L2233.1 636.5M2235.7 632.3 L2236 633.1M2233.6 633.7 L2238.3 633.7M2234.7 634.2 L2235.2 635.5M2237.3 634.2 L2236.8 635.5M2233.4 635.7 L2238.3 635.7M2233.1 637.6 L2238.5 637.6M2235.2 636.2 L2234.2 638.6 L2237.8 640.2M2237 636.8 L2236.2 638.9 L2233.6 640.4" fill="none" stroke="#008000" stroke-width="1" stroke-linecap="square"/>
<path d="M2245.7 632.2 L2246.2 633.1M2242.8 633.6 L2249.3 633.6M2242.8 633.6 L2242.8 636.8 L2241.8 640.2M2244.9 634.7 L2243.9 636.8M2244.9 635.2 L2245.7 636.5M2247.5 634.7 L2246.5 636.8M2247.5 635.2 L2248.5 636.5M2246.3 634.4 L2246.3 639.7M2244.1 637.8 L2248.5 637.8M2243.4 639.7 L2249.6 639.7" fill="none" stroke="#008000" stroke-width="1" stroke-linecap="square"/>
<path d="M2254.4 633.1 L2259.6 633.1 L2257.2 635.2M2257.2 635.2 L2257.2 640 L2256.2 639.4M2253.3 636.5 L2260.6 636.5" fill="none" stroke="#008000" stroke-width="1" stroke-linecap="square"/>
<rect x="2042.4" y="186.3" width="42.1" height="94.1" fill="url(#hp)" stroke="#0000ff" stroke-width="1.3" stroke-dasharray="3 2"/>
<path d="M2122.3 225.1l7 7M2122.3 232.1l7 -7" stroke="#8b5a2b" stroke-width="1.1"/>
<path d="M2122.3 235.4l7 7M2122.3 242.4l7 -7" stroke="#8b5a2b" stroke-width="1.1"/>
<path d="M2122.3 287.3l7 7M2122.3 294.3l7 -7" stroke="#8b5a2b" stroke-width="1.1"/>
<path d="M2122.3 297.6l7 7M2122.3 304.6l7 -7" stroke="#8b5a2b" stroke-width="1.1"/>
<path d="M2122.3 318.4l7 7M2122.3 325.4l7 -7" stroke="#8b5a2b" stroke-width="1.1"/>
<path d="M2122.3 328.7l7 7M2122.3 335.7l7 -7" stroke="#8b5a2b" stroke-width="1.1"/>
<path d="M2122.3 349.5l7 7M2122.3 356.5l7 -7" stroke="#8b5a2b" stroke-width="1.1"/>
<path d="M2122.3 359.8l7 7M2122.3 366.8l7 -7" stroke="#8b5a2b" stroke-width="1.1"/>
<path d="M2122.3 370.2l7 7M2122.3 377.2l7 -7" stroke="#8b5a2b" stroke-width="1.1"/>
<path d="M2122.3 380.5l7 7M2122.3 387.5l7 -7" stroke="#8b5a2b" stroke-width="1.1"/>
<path d="M2122.3 401.3l7 7M2122.3 408.3l7 -7" stroke="#8b5a2b" stroke-width="1.1"/>
<path d="M2122.3 411.6l7 7M2122.3 418.6l7 -7" stroke="#8b5a2b" stroke-width="1.1"/>
<path d="M2122.3 422l7 7M2122.3 429l7 -7" stroke="#8b5a2b" stroke-width="1.1"/>
<path d="M2122.3 536l7 7M2122.3 543l7 -7" stroke="#8b5a2b" stroke-width="1.1"/>
<path d="M2122.3 556.8l7 7M2122.3 563.8l7 -7" stroke="#8b5a2b" stroke-width="1.1"/>
<path d="M2122.3 567.1l7 7M2122.3 574.1l7 -7" stroke="#8b5a2b" stroke-width="1.1"/>
<path d="M2001.3 673.7 L2004.2 670.4 L2011.1 676.8 L2017 670.4 L2022.8 676.8 L2029.4 670.4 L2032.2 673.7" fill="none" stroke="#0000ff" stroke-width="1.2"/>
<path d="M2001.3 694.3 L2004.2 691 L2011.1 697.4 L2017 691 L2022.8 697.4 L2029.4 691 L2032.2 694.3" fill="none" stroke="#0000ff" stroke-width="1.2"/>
<path d="M1970.6 853 L1989.8 853M1980.2 853 L1978.8 856.7M1972 856.7 L1988.5 856.7 L1988.5 870.1M1972 856.7 L1972 870.1 L1988.5 870.1M1977.5 856.7 L1977.5 870.1M1983 856.7 L1983 870.1M1977.5 861.2 L1983 861.2M1977.5 865.6 L1983 865.6" fill="none" stroke="#008000" stroke-width="1.9" stroke-linecap="square"/>
<path d="M2023.2 856.6 L2031 856.6M2027.1 851.2 L2027.1 869.4 L2025.5 868.4M2023.2 864.9 L2031 861.1M2038.8 850.8 L2039.6 852.8M2032.6 854.3 L2046.6 854.3M2035.7 855.6 L2037.2 858.5M2043.5 855.6 L2041.9 858.5M2031.8 859.2 L2046.6 859.2M2031 863.7 L2047.1 863.7M2037.2 860.5 L2034.1 866.2 L2045.1 870.1M2042.7 861.7 L2040.4 866.9 L2032.6 870.4" fill="none" stroke="#008000" stroke-width="1.4" stroke-linecap="square"/>
<rect x="2011.5" y="902.3" width="155.4" height="527.9" fill="none" stroke="#0000ff" stroke-width="1.4"/>
<path d="M2074.4 1462.1 L2081.7 1462.1M2077.8 1462.1 L2077.8 1469.2M2078.3 1464.2 L2080.1 1465.8" fill="none" stroke="#008000" stroke-width="1" stroke-linecap="square"/>
<path d="M2085.4 1463.7 L2088 1463.7M2086.7 1461.4 L2086.7 1469 L2086.2 1468.5M2085.4 1467.1 L2088 1465.5M2090.6 1461.3 L2090.9 1462.1M2088.5 1462.7 L2093.2 1462.7M2089.6 1463.2 L2090.1 1464.5M2092.2 1463.2 L2091.7 1464.5M2088.3 1464.7 L2093.2 1464.7M2088 1466.6 L2093.4 1466.6M2090.1 1465.2 L2089.1 1467.6 L2092.7 1469.2M2091.9 1465.8 L2091.1 1467.9 L2088.5 1469.4" fill="none" stroke="#008000" stroke-width="1" stroke-linecap="square"/>
<path d="M2100.6 1461.2 L2101.1 1462.1M2097.7 1462.6 L2104.2 1462.6M2097.7 1462.6 L2097.7 1465.8 L2096.7 1469.2M2099.8 1463.7 L2098.8 1465.8M2099.8 1464.2 L2100.6 1465.5M2102.4 1463.7 L2101.4 1465.8M2102.4 1464.2 L2103.4 1465.5M2101.2 1463.4 L2101.2 1468.7M2099 1466.8 L2103.4 1466.8M2098.3 1468.7 L2104.5 1468.7" fill="none" stroke="#008000" stroke-width="1" stroke-linecap="square"/>
<path d="M2109.3 1462.1 L2114.5 1462.1 L2112.1 1464.2M2112.1 1464.2 L2112.1 1469 L2111.1 1468.4M2108.2 1465.5 L2115.5 1465.5" fill="none" stroke="#008000" stroke-width="1" stroke-linecap="square"/>
<rect x="1897" y="1025" width="42.5" height="94.2" fill="url(#hp)" stroke="#0000ff" stroke-width="1.3" stroke-dasharray="3 2"/>
<path d="M1977.6 1064.6l7 7M1977.6 1071.6l7 -7" stroke="#8b5a2b" stroke-width="1.1"/>
<path d="M1977.6 1075l7 7M1977.6 1082l7 -7" stroke="#8b5a2b" stroke-width="1.1"/>
<path d="M1977.6 1126.6l7 7M1977.6 1133.6l7 -7" stroke="#8b5a2b" stroke-width="1.1"/>
<path d="M1977.6 1137l7 7M1977.6 1144l7 -7" stroke="#8b5a2b" stroke-width="1.1"/>
<path d="M1977.6 1157.6l7 7M1977.6 1164.6l7 -7" stroke="#8b5a2b" stroke-width="1.1"/>
<path d="M1977.6 1168l7 7M1977.6 1175l7 -7" stroke="#8b5a2b" stroke-width="1.1"/>
<path d="M1977.6 1188.6l7 7M1977.6 1195.6l7 -7" stroke="#8b5a2b" stroke-width="1.1"/>
<path d="M1977.6 1199l7 7M1977.6 1206l7 -7" stroke="#8b5a2b" stroke-width="1.1"/>
<path d="M1977.6 1209.3l7 7M1977.6 1216.3l7 -7" stroke="#8b5a2b" stroke-width="1.1"/>
<path d="M1977.6 1219.7l7 7M1977.6 1226.7l7 -7" stroke="#8b5a2b" stroke-width="1.1"/>
<path d="M1977.6 1240.3l7 7M1977.6 1247.3l7 -7" stroke="#8b5a2b" stroke-width="1.1"/>
<path d="M1977.6 1250.7l7 7M1977.6 1257.7l7 -7" stroke="#8b5a2b" stroke-width="1.1"/>
<path d="M1977.6 1261l7 7M1977.6 1268l7 -7" stroke="#8b5a2b" stroke-width="1.1"/>
<path d="M1977.6 1374.7l7 7M1977.6 1381.7l7 -7" stroke="#8b5a2b" stroke-width="1.1"/>
<path d="M1977.6 1395.3l7 7M1977.6 1402.3l7 -7" stroke="#8b5a2b" stroke-width="1.1"/>
<path d="M1977.6 1405.7l7 7M1977.6 1412.7l7 -7" stroke="#8b5a2b" stroke-width="1.1"/>
<path d="M1856.7 1511.9 L1859.6 1508.6 L1866.5 1515 L1872.4 1508.6 L1878.2 1515 L1884.8 1508.6 L1887.6 1511.9" fill="none" stroke="#0000ff" stroke-width="1.2"/>
<path d="M1856.7 1532.5 L1859.6 1529.2 L1866.5 1535.6 L1872.4 1529.2 L1878.2 1535.6 L1884.8 1529.2 L1887.6 1532.5" fill="none" stroke="#0000ff" stroke-width="1.2"/>
<path d="M95.5 802.5 L106.7 802.5M96.4 807.2 L105.8 807.2M94.5 812.2 L107.7 812.2" fill="none" stroke="#008000" stroke-width="1.2" stroke-linecap="square"/>
<path d="M117.1 799.7 L114 803.5 L118 804.4M118.5 804 L113.4 808.5 L119.5 807.9M113.4 812.4 L120.1 810.3M122.6 800.6 L129.9 800.6 L129.9 812.6M122.6 800.6 L122.6 812.6M122.6 804.6 L129.9 804.6M122.6 808.5 L129.9 808.5M120.1 812.6 L131.5 812.6" fill="none" stroke="#008000" stroke-width="1.2" stroke-linecap="square"/>
<path d="M239 800.6 L255.1 800.6M240.2 803.5 L240.2 813.3M240.2 803.5 L253.9 803.5 L253.9 812.6 L252.2 811.9M244.5 800.6 L244.5 804.9 L242.2 809.4M244.5 805.8 L246.5 808.5M249.6 800.6 L249.6 804.9 L247.3 809.4M249.6 805.8 L251.6 808.5" fill="none" stroke="#008000" stroke-width="1.2" stroke-linecap="square"/>
<path d="M262.4 799.7 L259.3 803.5 L263.4 804.4M263.8 804 L258.7 808.5 L264.8 807.9M258.7 812.4 L265.4 810.3M267.9 800.6 L275.2 800.6 L275.2 812.6M267.9 800.6 L267.9 812.6M267.9 804.6 L275.2 804.6M267.9 808.5 L275.2 808.5M265.4 812.6 L276.8 812.6" fill="none" stroke="#008000" stroke-width="1.2" stroke-linecap="square"/>
<path d="M1233.6 912.2 L1236.5 908.9 L1243.4 915.3 L1249.3 908.9 L1255.1 915.3 L1261.7 908.9 L1264.5 912.2" fill="none" stroke="#0000ff" stroke-width="1.2"/>
<path d="M1233.6 922.7 L1236.5 919.4 L1243.4 925.8 L1249.3 919.4 L1255.1 925.8 L1261.7 919.4 L1264.5 922.7" fill="none" stroke="#0000ff" stroke-width="1.2"/>
<path d="M1233.6 943 L1236.5 939.7 L1243.4 946.1 L1249.3 939.7 L1255.1 946.1 L1261.7 939.7 L1264.5 943" fill="none" stroke="#0000ff" stroke-width="1.2"/>
<path d="M1233.6 953.2 L1236.5 949.9 L1243.4 956.3 L1249.3 949.9 L1255.1 956.3 L1261.7 949.9 L1264.5 953.2" fill="none" stroke="#0000ff" stroke-width="1.2"/>
<path d="M1233.6 974 L1236.5 970.7 L1243.4 977.1 L1249.3 970.7 L1255.1 977.1 L1261.7 970.7 L1264.5 974" fill="none" stroke="#0000ff" stroke-width="1.2"/>
<path d="M1233.6 984.5 L1236.5 981.2 L1243.4 987.6 L1249.3 981.2 L1255.1 987.6 L1261.7 981.2 L1264.5 984.5" fill="none" stroke="#0000ff" stroke-width="1.2"/>
<rect x="1243.5" y="1211.8" width="104.1" height="196.2" fill="none" stroke="#0000ff" stroke-width="1.4"/>
<path d="M1375.7 1281.3l7 7M1375.7 1288.3l7 -7" stroke="#8b5a2b" stroke-width="1.1"/>
<path d="M1375.7 1291.6l7 7M1375.7 1298.6l7 -7" stroke="#8b5a2b" stroke-width="1.1"/>
<path d="M1375.7 1353.2l7 7M1375.7 1360.2l7 -7" stroke="#8b5a2b" stroke-width="1.1"/>
<path d="M1375.7 1363.3l7 7M1375.7 1370.3l7 -7" stroke="#8b5a2b" stroke-width="1.1"/>
<path d="M1375.7 1384.3l7 7M1375.7 1391.3l7 -7" stroke="#8b5a2b" stroke-width="1.1"/>
<path d="M1375.7 1394.4l7 7M1375.7 1401.4l7 -7" stroke="#8b5a2b" stroke-width="1.1"/>
<path d="M1209.7 1342.8l7 7M1209.7 1349.8l7 -7" stroke="#8b5a2b" stroke-width="1.1"/>
<path d="M1209.7 1353.2l7 7M1209.7 1360.2l7 -7" stroke="#8b5a2b" stroke-width="1.1"/>
<path d="M1130.7 1190.8 L1133.6 1187.5 L1140.5 1193.9 L1146.4 1187.5 L1152.2 1193.9 L1158.8 1187.5 L1161.6 1190.8" fill="none" stroke="#0000ff" stroke-width="1.2"/>
<path d="M1088.7 1221.9 L1091.6 1218.6 L1098.5 1225 L1104.4 1218.6 L1110.2 1225 L1116.8 1218.6 L1119.6 1221.9" fill="none" stroke="#0000ff" stroke-width="1.2"/>
<path d="M1088.7 1243.6 L1091.6 1240.3 L1098.5 1246.7 L1104.4 1240.3 L1110.2 1246.7 L1116.8 1240.3 L1119.6 1243.6" fill="none" stroke="#0000ff" stroke-width="1.2"/>
<path d="M538.8 619.1l2.6 2.6l-2.6 2.6l-2.6 -2.6zM332 184.5l2.6 2.6l-2.6 2.6l-2.6 -2.6zM332 215.6l2.6 2.6l-2.6 2.6l-2.6 -2.6zM332 246.7l2.6 2.6l-2.6 2.6l-2.6 -2.6zM332 277.8l2.6 2.6l-2.6 2.6l-2.6 -2.6zM332 308.9l2.6 2.6l-2.6 2.6l-2.6 -2.6zM332 340l2.6 2.6l-2.6 2.6l-2.6 -2.6zM332 391.8l2.6 2.6l-2.6 2.6l-2.6 -2.6zM332 474.7l2.6 2.6l-2.6 2.6l-2.6 -2.6zM332 505.8l2.6 2.6l-2.6 2.6l-2.6 -2.6zM332 526.6l2.6 2.6l-2.6 2.6l-2.6 -2.6zM332 578.4l2.6 2.6l-2.6 2.6l-2.6 -2.6zM196.8 454l2.6 2.6l-2.6 2.6l-2.6 -2.6zM217.1 454l2.6 2.6l-2.6 2.6l-2.6 -2.6zM258 454l2.6 2.6l-2.6 2.6l-2.6 -2.6zM258.7 495.5l2.6 2.6l-2.6 2.6l-2.6 -2.6zM196.8 515.7l2.6 2.6l-2.6 2.6l-2.6 -2.6zM217.1 515.7l2.6 2.6l-2.6 2.6l-2.6 -2.6zM196.8 578.3l2.6 2.6l-2.6 2.6l-2.6 -2.6zM217.1 578.3l2.6 2.6l-2.6 2.6l-2.6 -2.6zM1130.6 619.1l2.6 2.6l-2.6 2.6l-2.6 -2.6zM922.5 184.5l2.6 2.6l-2.6 2.6l-2.6 -2.6zM922.5 215.6l2.6 2.6l-2.6 2.6l-2.6 -2.6zM922.5 246.7l2.6 2.6l-2.6 2.6l-2.6 -2.6zM922.5 277.8l2.6 2.6l-2.6 2.6l-2.6 -2.6zM922.5 308.9l2.6 2.6l-2.6 2.6l-2.6 -2.6zM922.5 340l2.6 2.6l-2.6 2.6l-2.6 -2.6zM922.5 391.8l2.6 2.6l-2.6 2.6l-2.6 -2.6zM922.5 474.7l2.6 2.6l-2.6 2.6l-2.6 -2.6zM922.5 505.8l2.6 2.6l-2.6 2.6l-2.6 -2.6zM922.5 526.6l2.6 2.6l-2.6 2.6l-2.6 -2.6zM922.5 578.4l2.6 2.6l-2.6 2.6l-2.6 -2.6zM787.4 454l2.6 2.6l-2.6 2.6l-2.6 -2.6zM807.8 454l2.6 2.6l-2.6 2.6l-2.6 -2.6zM849.5 454l2.6 2.6l-2.6 2.6l-2.6 -2.6zM850.3 495.5l2.6 2.6l-2.6 2.6l-2.6 -2.6zM787.4 515.7l2.6 2.6l-2.6 2.6l-2.6 -2.6zM807.8 515.7l2.6 2.6l-2.6 2.6l-2.6 -2.6zM787.4 578.1l2.6 2.6l-2.6 2.6l-2.6 -2.6zM807.8 578.1l2.6 2.6l-2.6 2.6l-2.6 -2.6zM1711.3 629.3l2.6 2.6l-2.6 2.6l-2.6 -2.6zM1503 184.5l2.6 2.6l-2.6 2.6l-2.6 -2.6zM1503 215.6l2.6 2.6l-2.6 2.6l-2.6 -2.6zM1503 246.7l2.6 2.6l-2.6 2.6l-2.6 -2.6zM1503 277.8l2.6 2.6l-2.6 2.6l-2.6 -2.6zM1503 308.9l2.6 2.6l-2.6 2.6l-2.6 -2.6zM1503 340l2.6 2.6l-2.6 2.6l-2.6 -2.6zM1503 391.8l2.6 2.6l-2.6 2.6l-2.6 -2.6zM1503 474.7l2.6 2.6l-2.6 2.6l-2.6 -2.6zM1503 505.8l2.6 2.6l-2.6 2.6l-2.6 -2.6zM1503 526.6l2.6 2.6l-2.6 2.6l-2.6 -2.6zM1503 578.4l2.6 2.6l-2.6 2.6l-2.6 -2.6zM1368.2 464.4l2.6 2.6l-2.6 2.6l-2.6 -2.6zM1388.9 464.4l2.6 2.6l-2.6 2.6l-2.6 -2.6zM1430.4 464.4l2.6 2.6l-2.6 2.6l-2.6 -2.6zM1431.2 495.5l2.6 2.6l-2.6 2.6l-2.6 -2.6zM1368.2 526l2.6 2.6l-2.6 2.6l-2.6 -2.6zM1388.9 526l2.6 2.6l-2.6 2.6l-2.6 -2.6zM1368.2 588.6l2.6 2.6l-2.6 2.6l-2.6 -2.6zM1388.9 588.6l2.6 2.6l-2.6 2.6l-2.6 -2.6zM2322.2 629.4l2.6 2.6l-2.6 2.6l-2.6 -2.6zM2115.2 184.5l2.6 2.6l-2.6 2.6l-2.6 -2.6zM2115.2 215.6l2.6 2.6l-2.6 2.6l-2.6 -2.6zM2115.2 246.7l2.6 2.6l-2.6 2.6l-2.6 -2.6zM2115.2 277.8l2.6 2.6l-2.6 2.6l-2.6 -2.6zM2115.2 308.9l2.6 2.6l-2.6 2.6l-2.6 -2.6zM2115.2 340l2.6 2.6l-2.6 2.6l-2.6 -2.6zM2115.2 391.8l2.6 2.6l-2.6 2.6l-2.6 -2.6zM2115.2 474.7l2.6 2.6l-2.6 2.6l-2.6 -2.6zM2115.2 505.8l2.6 2.6l-2.6 2.6l-2.6 -2.6zM2115.2 526.6l2.6 2.6l-2.6 2.6l-2.6 -2.6zM2115.2 578.4l2.6 2.6l-2.6 2.6l-2.6 -2.6zM1980.1 464.4l2.6 2.6l-2.6 2.6l-2.6 -2.6zM2000.3 464.4l2.6 2.6l-2.6 2.6l-2.6 -2.6zM2042.4 464.4l2.6 2.6l-2.6 2.6l-2.6 -2.6zM2043.2 495.5l2.6 2.6l-2.6 2.6l-2.6 -2.6zM1980.1 525.8l2.6 2.6l-2.6 2.6l-2.6 -2.6zM2000.3 525.8l2.6 2.6l-2.6 2.6l-2.6 -2.6zM1980.1 588.5l2.6 2.6l-2.6 2.6l-2.6 -2.6zM2000.3 588.5l2.6 2.6l-2.6 2.6l-2.6 -2.6zM2064.6 671.1l2.6 2.6l-2.6 2.6l-2.6 -2.6zM2177.5 1458.2l2.6 2.6l-2.6 2.6l-2.6 -2.6zM1970.5 1024.2l2.6 2.6l-2.6 2.6l-2.6 -2.6zM1970.5 1055.2l2.6 2.6l-2.6 2.6l-2.6 -2.6zM1970.5 1086.2l2.6 2.6l-2.6 2.6l-2.6 -2.6zM1970.5 1117.2l2.6 2.6l-2.6 2.6l-2.6 -2.6zM1970.5 1148.2l2.6 2.6l-2.6 2.6l-2.6 -2.6zM1970.5 1179.2l2.6 2.6l-2.6 2.6l-2.6 -2.6zM1970.5 1230.9l2.6 2.6l-2.6 2.6l-2.6 -2.6zM1970.5 1313.6l2.6 2.6l-2.6 2.6l-2.6 -2.6zM1970.5 1344.6l2.6 2.6l-2.6 2.6l-2.6 -2.6zM1970.5 1365.2l2.6 2.6l-2.6 2.6l-2.6 -2.6zM1970.5 1416.9l2.6 2.6l-2.6 2.6l-2.6 -2.6zM1835 1292.9l2.6 2.6l-2.6 2.6l-2.6 -2.6zM1855.8 1292.9l2.6 2.6l-2.6 2.6l-2.6 -2.6zM1897.2 1292.9l2.6 2.6l-2.6 2.6l-2.6 -2.6zM1898 1334.2l2.6 2.6l-2.6 2.6l-2.6 -2.6zM1835 1354.4l2.6 2.6l-2.6 2.6l-2.6 -2.6zM1855.8 1354.4l2.6 2.6l-2.6 2.6l-2.6 -2.6zM1835 1416.9l2.6 2.6l-2.6 2.6l-2.6 -2.6zM1855.8 1416.9l2.6 2.6l-2.6 2.6l-2.6 -2.6zM1919.4 1509.3l2.6 2.6l-2.6 2.6l-2.6 -2.6zM1357.7 940.4l2.6 2.6l-2.6 2.6l-2.6 -2.6zM1347.6 950.6l2.6 2.6l-2.6 2.6l-2.6 -2.6zM1202.6 1219.3l2.6 2.6l-2.6 2.6l-2.6 -2.6zM1056.8 1219.3l2.6 2.6l-2.6 2.6l-2.6 -2.6zM1399.2 1219.3l2.6 2.6l-2.6 2.6l-2.6 -2.6zM1399.2 1198.3l2.6 2.6l-2.6 2.6l-2.6 -2.6zM1514.4 1198.3l2.6 2.6l-2.6 2.6l-2.6 -2.6z" fill="#ff00ff"/>
<g fill="#000080" stroke="#000080" stroke-width="0.25">
<text x="383" y="61">JV1</text>
<text x="373.1" y="600.2">FPC-50P-0.5MM-8</text>
<text x="228.2" y="132.1">RV2</text>
<text x="278.5" y="132.7">0R</text>
<text x="228.2" y="152.8">RV3</text>
<text x="278.5" y="153.4">0R</text>
<text x="238.5" y="411.9">RV4</text>
<text x="288.7" y="412.5">0R</text>
<text x="164.2" y="475.6">CV13</text>
<text x="165" y="485.8">10uF</text>
<text x="227.1" y="475.6">CV14</text>
<text x="227.6" y="485.8">100nF</text>
<text x="164.2" y="537.3">CV15</text>
<text x="155.8" y="547.5">10uF-16V</text>
<text x="227.1" y="537.3">CV16</text>
<text x="227.6" y="547.5">100nF-16V</text>
<text x="164.2" y="599.9">CV17</text>
<text x="155.8" y="610.1">10uF-25V</text>
<text x="227.1" y="599.9">CV18</text>
<text x="227.6" y="610.1">100nF-25V</text>
<text x="973.8" y="61">JA1</text>
<text x="963.9" y="600.2">FPC-50P-0.5MM-8</text>
<text x="754.8" y="475.6">CV7</text>
<text x="755.6" y="485.8">10uF</text>
<text x="817.8" y="475.6">CV8</text>
<text x="818.3" y="485.8">100nF</text>
<text x="754.8" y="537.3">CV9</text>
<text x="746.4" y="547.5">10uF-10V</text>
<text x="817.8" y="537.3">CV10</text>
<text x="818.3" y="547.5">100nF-10V</text>
<text x="754.8" y="599.7">CV11</text>
<text x="746.4" y="609.9">10uF-25V</text>
<text x="817.8" y="599.7">CV12</text>
<text x="818.3" y="609.9">100nF-25V</text>
<text x="1555.5" y="61">JB1</text>
<text x="1545.6" y="600.2">FPC-50P-0.5MM-8</text>
<text x="1335.6" y="486">CV1</text>
<text x="1336.4" y="496.2">10uF</text>
<text x="1398.9" y="486">CV2</text>
<text x="1399.4" y="496.2">100nF</text>
<text x="1335.6" y="547.6">CV3</text>
<text x="1327.2" y="557.8">10uF-10V</text>
<text x="1398.9" y="547.6">CV4</text>
<text x="1399.4" y="557.8">100nF-10V</text>
<text x="1335.6" y="610.2">CV5</text>
<text x="1327.2" y="620.4">10uF-25V</text>
<text x="1398.9" y="610.2">CV6</text>
<text x="1399.4" y="620.4">100nF-25V</text>
<text x="2166.4" y="61">JC1</text>
<text x="2156.5" y="600.2">FPC-50P-0.5MM-8</text>
<text x="1947.5" y="486">CV28</text>
<text x="1948.3" y="496.2">10uF</text>
<text x="2010.3" y="486">CV29</text>
<text x="2010.8" y="496.2">100nF</text>
<text x="1947.5" y="547.4">CV30</text>
<text x="1939.1" y="557.6">10uF-10V</text>
<text x="2010.3" y="547.4">CV31</text>
<text x="2010.8" y="557.6">100nF-10V</text>
<text x="1947.5" y="610.1">CV32</text>
<text x="1939.1" y="620.3">10uF-25V</text>
<text x="2010.3" y="610.1">CV33</text>
<text x="2010.8" y="620.3">100nF-25V</text>
<text x="1981.3" y="671.1">R17</text>
<text x="2031.7" y="671.1">0R</text>
<text x="1981.3" y="691.7">R9</text>
<text x="2031.7" y="691.7">NC/0R</text>
<text x="2021.7" y="901">JD1</text>
<text x="2011.8" y="1440.2">FPC-50P-0.5MM-8</text>
<text x="1802.4" y="1314.5">CV19</text>
<text x="1803.2" y="1324.7">10uF</text>
<text x="1865.8" y="1314.5">CV20</text>
<text x="1866.3" y="1324.7">100nF</text>
<text x="1802.4" y="1376">CV21</text>
<text x="1794" y="1386.2">10uF-10V</text>
<text x="1865.8" y="1376">CV22</text>
<text x="1866.3" y="1386.2">100nF-10V</text>
<text x="1802.4" y="1438.5">CV23</text>
<text x="1794" y="1448.7">10uF-25V</text>
<text x="1865.8" y="1438.5">CV24</text>
<text x="1866.3" y="1448.7">100nF-25V</text>
<text x="1836.7" y="1509.3">R5</text>
<text x="1887.1" y="1509.3">0R</text>
<text x="1836.7" y="1529.9">R6</text>
<text x="1887.1" y="1529.9">NC/0R</text>
<text x="1213.2" y="909.6">R15</text>
<text x="1264.8" y="909.6">0R</text>
<text x="1213.2" y="920.1">R16</text>
<text x="1264.8" y="920.1">0R</text>
<text x="1213.2" y="940.4">R10</text>
<text x="1264.8" y="940.4">NC/0R</text>
<text x="1213.2" y="950.6">R11</text>
<text x="1264.8" y="950.6">NC/0R</text>
<text x="1213.2" y="971.4">R12</text>
<text x="1264.8" y="971.4">0R</text>
<text x="1213.2" y="981.9">R13</text>
<text x="1264.8" y="981.9">0R</text>
<text x="1243.8" y="1205.5">U1</text>
<text x="1244" y="1417.5">BCT642ABGG</text>
<text x="1109.3" y="1188.2">R4</text>
<text x="1160.6" y="1188.2">0R</text>
<text x="1068.1" y="1219.3">R1</text>
<text x="1120.7" y="1219.3">10K</text>
<text x="1068.1" y="1241">R2</text>
<text x="1120.7" y="1241">10K</text>
<text x="1409.8" y="1198.5">CV25</text>
<text x="1462.3" y="1198.5">10uF</text>
<text x="1409.8" y="1219.5">CV26</text>
<text x="1462.3" y="1219.5">100nF</text>
</g>
<g fill="#00407f" stroke="#00407f" stroke-width="0.35">
<text transform="translate(509.4 83) rotate(-90)" text-anchor="middle" y="3.2">GND13</text>
<text transform="translate(498.2 569.3) rotate(-90)" text-anchor="middle" y="3.2">GND12</text>
<text x="378.1" y="76.8" font-size="9.60" textLength="91.2" lengthAdjust="spacingAndGlyphs">MIPI_RSTN0/NCSI_D6</text>
<text x="378.1" y="87.2" font-size="9.60" textLength="94.1" lengthAdjust="spacingAndGlyphs">MIPI_PWDN0/NCSI_D7</text>
<text x="378.1" y="97.5" font-size="9.60" textLength="91.7" lengthAdjust="spacingAndGlyphs">MIPI_MCLK0/NCSI_D0</text>
<text x="378.1" y="107.9" font-size="9.60" textLength="24.4" lengthAdjust="spacingAndGlyphs">GND0</text>
<text x="378.1" y="118.3" font-size="9.60" textLength="83.4" lengthAdjust="spacingAndGlyphs">TWI1_SCK/NCSI_D2</text>
<text x="378.1" y="128.6" font-size="9.60" textLength="83.4" lengthAdjust="spacingAndGlyphs">TWI1_SDA/NCSI_D3</text>
<text x="378.1" y="139" font-size="9.60" textLength="103.8" lengthAdjust="spacingAndGlyphs">IR-CUT-CTRL-(3.3VGPIO)</text>
<text x="378.1" y="149.4" font-size="9.60" textLength="48.8" lengthAdjust="spacingAndGlyphs">DVDD(1.1V)</text>
<text x="378.1" y="159.7" font-size="9.60" textLength="106.0" lengthAdjust="spacingAndGlyphs">IR-CUT-CTRL+(3.3VGPIO)</text>
<text x="378.1" y="170.1" font-size="9.60" textLength="47.6" lengthAdjust="spacingAndGlyphs">AVDD(2.8V)</text>
<text x="378.1" y="180.4" font-size="9.60" textLength="51.7" lengthAdjust="spacingAndGlyphs">IOVDD(1.8V)</text>
<text x="378.1" y="190.8" font-size="9.60" textLength="24.4" lengthAdjust="spacingAndGlyphs">GND1</text>
<text x="378.1" y="201.2" font-size="9.60" textLength="84.4" lengthAdjust="spacingAndGlyphs">MIPI_D0P/NCSI_D12</text>
<text x="378.1" y="211.5" font-size="9.60" textLength="84.9" lengthAdjust="spacingAndGlyphs">MIPI_D0N/NCSI_D13</text>
<text x="378.1" y="221.9" font-size="9.60" textLength="24.4" lengthAdjust="spacingAndGlyphs">GND2</text>
<text x="378.1" y="232.3" font-size="9.60" textLength="83.7" lengthAdjust="spacingAndGlyphs">MIPI_D1P/NCSI_D11</text>
<text x="378.1" y="242.6" font-size="9.60" textLength="84.9" lengthAdjust="spacingAndGlyphs">MIPI_D1N/NCSI_D10</text>
<text x="378.1" y="253" font-size="9.60" textLength="24.4" lengthAdjust="spacingAndGlyphs">GND3</text>
<text x="378.1" y="263.4" font-size="9.60" textLength="85.3" lengthAdjust="spacingAndGlyphs">MIPI_CK0P/NCSI_D8</text>
<text x="378.1" y="273.7" font-size="9.60" textLength="85.8" lengthAdjust="spacingAndGlyphs">MIPI_CK0N/NCSI_D9</text>
<text x="378.1" y="284.1" font-size="9.60" textLength="24.4" lengthAdjust="spacingAndGlyphs">GND4</text>
<text x="378.1" y="294.5" font-size="9.60" textLength="84.4" lengthAdjust="spacingAndGlyphs">MIPI_D2P/NCSI_D15</text>
<text x="378.1" y="304.8" font-size="9.60" textLength="84.9" lengthAdjust="spacingAndGlyphs">MIPI_D2N/NCSI_D14</text>
<text x="378.1" y="315.2" font-size="9.60" textLength="24.4" lengthAdjust="spacingAndGlyphs">GND5</text>
<text x="378.1" y="325.6" font-size="9.60" textLength="86.3" lengthAdjust="spacingAndGlyphs">MIPI_D3P/TWI3_SDA</text>
<text x="378.1" y="335.9" font-size="9.60" textLength="86.8" lengthAdjust="spacingAndGlyphs">MIPI_D3N/TWI3_SCK</text>
<text x="378.1" y="346.3" font-size="9.60" textLength="24.4" lengthAdjust="spacingAndGlyphs">GND6</text>
<text x="378.1" y="356.7" font-size="9.60" textLength="92.2" lengthAdjust="spacingAndGlyphs">MIPI_CK1P/TWI0_SDA</text>
<text x="378.1" y="367" font-size="9.60" textLength="92.6" lengthAdjust="spacingAndGlyphs">MIPI_CK1N/TWI0_SCK</text>
<text x="378.1" y="377.4" font-size="9.60" textLength="104.3" lengthAdjust="spacingAndGlyphs">MIPI_RSTN1/NCSI_MCLK</text>
<text x="378.1" y="387.7" font-size="9.60" textLength="105.8" lengthAdjust="spacingAndGlyphs">MIPI_PWDN1/NCSI_PCLK</text>
<text x="378.1" y="398.1" font-size="9.60" textLength="24.4" lengthAdjust="spacingAndGlyphs">GND7</text>
<text x="378.1" y="408.5" font-size="9.60" textLength="91.7" lengthAdjust="spacingAndGlyphs">MIPI_MCLK1/NCSI_D1</text>
<text x="378.1" y="418.8" font-size="9.60" textLength="83.4" lengthAdjust="spacingAndGlyphs">TWI0_SCK/NCSI_D4</text>
<text x="378.1" y="429.2" font-size="9.60" textLength="83.4" lengthAdjust="spacingAndGlyphs">TWI0_SDA/NCSI_D5</text>
<text x="378.1" y="439.6" font-size="9.60" textLength="96.5" lengthAdjust="spacingAndGlyphs">IR-LED_EN_PWM/GPIO</text>
<text x="378.1" y="449.9" font-size="9.60" textLength="21.9" lengthAdjust="spacingAndGlyphs">GPIO</text>
<text x="378.1" y="460.3" font-size="9.60" textLength="46.8" lengthAdjust="spacingAndGlyphs">VCC-3V3_0</text>
<text x="378.1" y="470.7" font-size="9.60" textLength="46.8" lengthAdjust="spacingAndGlyphs">VCC-3V3_1</text>
<text x="378.1" y="481" font-size="9.60" textLength="24.4" lengthAdjust="spacingAndGlyphs">GND8</text>
<text x="378.1" y="491.4" font-size="9.60" textLength="39.5" lengthAdjust="spacingAndGlyphs">VCC-5V-0</text>
<text x="378.1" y="501.8" font-size="9.60" textLength="39.5" lengthAdjust="spacingAndGlyphs">VCC-5V-1</text>
<text x="378.1" y="512.1" font-size="9.60" textLength="24.4" lengthAdjust="spacingAndGlyphs">GND9</text>
<text x="378.1" y="522.5" font-size="9.60" textLength="37.1" lengthAdjust="spacingAndGlyphs">VCC-12V</text>
<text x="378.1" y="532.9" font-size="9.60" textLength="29.3" lengthAdjust="spacingAndGlyphs">GND10</text>
<text x="378.1" y="543.2" font-size="9.60" textLength="53.1" lengthAdjust="spacingAndGlyphs">NCSI-RESET</text>
<text x="378.1" y="553.6" font-size="9.60" textLength="85.8" lengthAdjust="spacingAndGlyphs">MIPI_CSI_MCLK0(PI)</text>
<text x="378.1" y="564" font-size="9.60" textLength="106.8" lengthAdjust="spacingAndGlyphs">TWI1_SCK/MIPI_CSI_SCK</text>
<text x="378.1" y="574.3" font-size="9.60" textLength="106.8" lengthAdjust="spacingAndGlyphs">TWI1_SDA/MIPI_CSI_SDA</text>
<text x="378.1" y="584.7" font-size="9.60" textLength="28.6" lengthAdjust="spacingAndGlyphs">GND11</text>
<text transform="translate(1100.2 83) rotate(-90)" text-anchor="middle" y="3.2">GND13</text>
<text transform="translate(1089 569.3) rotate(-90)" text-anchor="middle" y="3.2">GND12</text>
<text x="968.9" y="76.8" font-size="9.60" textLength="91.2" lengthAdjust="spacingAndGlyphs">MIPI_RSTN0/NCSI_D6</text>
<text x="968.9" y="87.2" font-size="9.60" textLength="94.1" lengthAdjust="spacingAndGlyphs">MIPI_PWDN0/NCSI_D7</text>
<text x="968.9" y="97.5" font-size="9.60" textLength="91.7" lengthAdjust="spacingAndGlyphs">MIPI_MCLK0/NCSI_D0</text>
<text x="968.9" y="107.9" font-size="9.60" textLength="24.4" lengthAdjust="spacingAndGlyphs">GND0</text>
<text x="968.9" y="118.3" font-size="9.60" textLength="83.4" lengthAdjust="spacingAndGlyphs">TWI1_SCK/NCSI_D2</text>
<text x="968.9" y="128.6" font-size="9.60" textLength="83.4" lengthAdjust="spacingAndGlyphs">TWI1_SDA/NCSI_D3</text>
<text x="968.9" y="139" font-size="9.60" textLength="103.8" lengthAdjust="spacingAndGlyphs">IR-CUT-CTRL-(3.3VGPIO)</text>
<text x="968.9" y="149.4" font-size="9.60" textLength="48.8" lengthAdjust="spacingAndGlyphs">DVDD(1.1V)</text>
<text x="968.9" y="159.7" font-size="9.60" textLength="106.0" lengthAdjust="spacingAndGlyphs">IR-CUT-CTRL+(3.3VGPIO)</text>
<text x="968.9" y="170.1" font-size="9.60" textLength="47.6" lengthAdjust="spacingAndGlyphs">AVDD(2.8V)</text>
<text x="968.9" y="180.4" font-size="9.60" textLength="51.7" lengthAdjust="spacingAndGlyphs">IOVDD(1.8V)</text>
<text x="968.9" y="190.8" font-size="9.60" textLength="24.4" lengthAdjust="spacingAndGlyphs">GND1</text>
<text x="968.9" y="201.2" font-size="9.60" textLength="84.4" lengthAdjust="spacingAndGlyphs">MIPI_D0P/NCSI_D12</text>
<text x="968.9" y="211.5" font-size="9.60" textLength="84.9" lengthAdjust="spacingAndGlyphs">MIPI_D0N/NCSI_D13</text>
<text x="968.9" y="221.9" font-size="9.60" textLength="24.4" lengthAdjust="spacingAndGlyphs">GND2</text>
<text x="968.9" y="232.3" font-size="9.60" textLength="83.7" lengthAdjust="spacingAndGlyphs">MIPI_D1P/NCSI_D11</text>
<text x="968.9" y="242.6" font-size="9.60" textLength="84.9" lengthAdjust="spacingAndGlyphs">MIPI_D1N/NCSI_D10</text>
<text x="968.9" y="253" font-size="9.60" textLength="24.4" lengthAdjust="spacingAndGlyphs">GND3</text>
<text x="968.9" y="263.4" font-size="9.60" textLength="85.3" lengthAdjust="spacingAndGlyphs">MIPI_CK0P/NCSI_D8</text>
<text x="968.9" y="273.7" font-size="9.60" textLength="85.8" lengthAdjust="spacingAndGlyphs">MIPI_CK0N/NCSI_D9</text>
<text x="968.9" y="284.1" font-size="9.60" textLength="24.4" lengthAdjust="spacingAndGlyphs">GND4</text>
<text x="968.9" y="294.5" font-size="9.60" textLength="84.4" lengthAdjust="spacingAndGlyphs">MIPI_D2P/NCSI_D15</text>
<text x="968.9" y="304.8" font-size="9.60" textLength="84.9" lengthAdjust="spacingAndGlyphs">MIPI_D2N/NCSI_D14</text>
<text x="968.9" y="315.2" font-size="9.60" textLength="24.4" lengthAdjust="spacingAndGlyphs">GND5</text>
<text x="968.9" y="325.6" font-size="9.60" textLength="86.3" lengthAdjust="spacingAndGlyphs">MIPI_D3P/TWI3_SDA</text>
<text x="968.9" y="335.9" font-size="9.60" textLength="86.8" lengthAdjust="spacingAndGlyphs">MIPI_D3N/TWI3_SCK</text>
<text x="968.9" y="346.3" font-size="9.60" textLength="24.4" lengthAdjust="spacingAndGlyphs">GND6</text>
<text x="968.9" y="356.7" font-size="9.60" textLength="92.2" lengthAdjust="spacingAndGlyphs">MIPI_CK1P/TWI0_SDA</text>
<text x="968.9" y="367" font-size="9.60" textLength="92.6" lengthAdjust="spacingAndGlyphs">MIPI_CK1N/TWI0_SCK</text>
<text x="968.9" y="377.4" font-size="9.60" textLength="104.3" lengthAdjust="spacingAndGlyphs">MIPI_RSTN1/NCSI_MCLK</text>
<text x="968.9" y="387.7" font-size="9.60" textLength="105.8" lengthAdjust="spacingAndGlyphs">MIPI_PWDN1/NCSI_PCLK</text>
<text x="968.9" y="398.1" font-size="9.60" textLength="24.4" lengthAdjust="spacingAndGlyphs">GND7</text>
<text x="968.9" y="408.5" font-size="9.60" textLength="91.7" lengthAdjust="spacingAndGlyphs">MIPI_MCLK1/NCSI_D1</text>
<text x="968.9" y="418.8" font-size="9.60" textLength="83.4" lengthAdjust="spacingAndGlyphs">TWI0_SCK/NCSI_D4</text>
<text x="968.9" y="429.2" font-size="9.60" textLength="83.4" lengthAdjust="spacingAndGlyphs">TWI0_SDA/NCSI_D5</text>
<text x="968.9" y="439.6" font-size="9.60" textLength="96.5" lengthAdjust="spacingAndGlyphs">IR-LED_EN_PWM/GPIO</text>
<text x="968.9" y="449.9" font-size="9.60" textLength="21.9" lengthAdjust="spacingAndGlyphs">GPIO</text>
<text x="968.9" y="460.3" font-size="9.60" textLength="46.8" lengthAdjust="spacingAndGlyphs">VCC-3V3_0</text>
<text x="968.9" y="470.7" font-size="9.60" textLength="46.8" lengthAdjust="spacingAndGlyphs">VCC-3V3_1</text>
<text x="968.9" y="481" font-size="9.60" textLength="24.4" lengthAdjust="spacingAndGlyphs">GND8</text>
<text x="968.9" y="491.4" font-size="9.60" textLength="39.5" lengthAdjust="spacingAndGlyphs">VCC-5V-0</text>
<text x="968.9" y="501.8" font-size="9.60" textLength="39.5" lengthAdjust="spacingAndGlyphs">VCC-5V-1</text>
<text x="968.9" y="512.1" font-size="9.60" textLength="24.4" lengthAdjust="spacingAndGlyphs">GND9</text>
<text x="968.9" y="522.5" font-size="9.60" textLength="37.1" lengthAdjust="spacingAndGlyphs">VCC-12V</text>
<text x="968.9" y="532.9" font-size="9.60" textLength="29.3" lengthAdjust="spacingAndGlyphs">GND10</text>
<text x="968.9" y="543.2" font-size="9.60" textLength="53.1" lengthAdjust="spacingAndGlyphs">NCSI-RESET</text>
<text x="968.9" y="553.6" font-size="9.60" textLength="85.8" lengthAdjust="spacingAndGlyphs">MIPI_CSI_MCLK0(PI)</text>
<text x="968.9" y="564" font-size="9.60" textLength="106.8" lengthAdjust="spacingAndGlyphs">TWI1_SCK/MIPI_CSI_SCK</text>
<text x="968.9" y="574.3" font-size="9.60" textLength="106.8" lengthAdjust="spacingAndGlyphs">TWI1_SDA/MIPI_CSI_SDA</text>
<text x="968.9" y="584.7" font-size="9.60" textLength="28.6" lengthAdjust="spacingAndGlyphs">GND11</text>
<text transform="translate(1681.9 83) rotate(-90)" text-anchor="middle" y="3.2">GND13</text>
<text transform="translate(1670.7 569.3) rotate(-90)" text-anchor="middle" y="3.2">GND12</text>
<text x="1550.6" y="76.8" font-size="9.60" textLength="91.2" lengthAdjust="spacingAndGlyphs">MIPI_RSTN0/NCSI_D6</text>
<text x="1550.6" y="87.2" font-size="9.60" textLength="94.1" lengthAdjust="spacingAndGlyphs">MIPI_PWDN0/NCSI_D7</text>
<text x="1550.6" y="97.5" font-size="9.60" textLength="91.7" lengthAdjust="spacingAndGlyphs">MIPI_MCLK0/NCSI_D0</text>
<text x="1550.6" y="107.9" font-size="9.60" textLength="24.4" lengthAdjust="spacingAndGlyphs">GND0</text>
<text x="1550.6" y="118.3" font-size="9.60" textLength="83.4" lengthAdjust="spacingAndGlyphs">TWI1_SCK/NCSI_D2</text>
<text x="1550.6" y="128.6" font-size="9.60" textLength="83.4" lengthAdjust="spacingAndGlyphs">TWI1_SDA/NCSI_D3</text>
<text x="1550.6" y="139" font-size="9.60" textLength="103.8" lengthAdjust="spacingAndGlyphs">IR-CUT-CTRL-(3.3VGPIO)</text>
<text x="1550.6" y="149.4" font-size="9.60" textLength="48.8" lengthAdjust="spacingAndGlyphs">DVDD(1.1V)</text>
<text x="1550.6" y="159.7" font-size="9.60" textLength="106.0" lengthAdjust="spacingAndGlyphs">IR-CUT-CTRL+(3.3VGPIO)</text>
<text x="1550.6" y="170.1" font-size="9.60" textLength="47.6" lengthAdjust="spacingAndGlyphs">AVDD(2.8V)</text>
<text x="1550.6" y="180.4" font-size="9.60" textLength="51.7" lengthAdjust="spacingAndGlyphs">IOVDD(1.8V)</text>
<text x="1550.6" y="190.8" font-size="9.60" textLength="24.4" lengthAdjust="spacingAndGlyphs">GND1</text>
<text x="1550.6" y="201.2" font-size="9.60" textLength="84.4" lengthAdjust="spacingAndGlyphs">MIPI_D0P/NCSI_D12</text>
<text x="1550.6" y="211.5" font-size="9.60" textLength="84.9" lengthAdjust="spacingAndGlyphs">MIPI_D0N/NCSI_D13</text>
<text x="1550.6" y="221.9" font-size="9.60" textLength="24.4" lengthAdjust="spacingAndGlyphs">GND2</text>
<text x="1550.6" y="232.3" font-size="9.60" textLength="83.7" lengthAdjust="spacingAndGlyphs">MIPI_D1P/NCSI_D11</text>
<text x="1550.6" y="242.6" font-size="9.60" textLength="84.9" lengthAdjust="spacingAndGlyphs">MIPI_D1N/NCSI_D10</text>
<text x="1550.6" y="253" font-size="9.60" textLength="24.4" lengthAdjust="spacingAndGlyphs">GND3</text>
<text x="1550.6" y="263.4" font-size="9.60" textLength="85.3" lengthAdjust="spacingAndGlyphs">MIPI_CK0P/NCSI_D8</text>
<text x="1550.6" y="273.7" font-size="9.60" textLength="85.8" lengthAdjust="spacingAndGlyphs">MIPI_CK0N/NCSI_D9</text>
<text x="1550.6" y="284.1" font-size="9.60" textLength="24.4" lengthAdjust="spacingAndGlyphs">GND4</text>
<text x="1550.6" y="294.5" font-size="9.60" textLength="84.4" lengthAdjust="spacingAndGlyphs">MIPI_D2P/NCSI_D15</text>
<text x="1550.6" y="304.8" font-size="9.60" textLength="84.9" lengthAdjust="spacingAndGlyphs">MIPI_D2N/NCSI_D14</text>
<text x="1550.6" y="315.2" font-size="9.60" textLength="24.4" lengthAdjust="spacingAndGlyphs">GND5</text>
<text x="1550.6" y="325.6" font-size="9.60" textLength="86.3" lengthAdjust="spacingAndGlyphs">MIPI_D3P/TWI3_SDA</text>
<text x="1550.6" y="335.9" font-size="9.60" textLength="86.8" lengthAdjust="spacingAndGlyphs">MIPI_D3N/TWI3_SCK</text>
<text x="1550.6" y="346.3" font-size="9.60" textLength="24.4" lengthAdjust="spacingAndGlyphs">GND6</text>
<text x="1550.6" y="356.7" font-size="9.60" textLength="92.2" lengthAdjust="spacingAndGlyphs">MIPI_CK1P/TWI0_SDA</text>
<text x="1550.6" y="367" font-size="9.60" textLength="92.6" lengthAdjust="spacingAndGlyphs">MIPI_CK1N/TWI0_SCK</text>
<text x="1550.6" y="377.4" font-size="9.60" textLength="104.3" lengthAdjust="spacingAndGlyphs">MIPI_RSTN1/NCSI_MCLK</text>
<text x="1550.6" y="387.7" font-size="9.60" textLength="105.8" lengthAdjust="spacingAndGlyphs">MIPI_PWDN1/NCSI_PCLK</text>
<text x="1550.6" y="398.1" font-size="9.60" textLength="24.4" lengthAdjust="spacingAndGlyphs">GND7</text>
<text x="1550.6" y="408.5" font-size="9.60" textLength="91.7" lengthAdjust="spacingAndGlyphs">MIPI_MCLK1/NCSI_D1</text>
<text x="1550.6" y="418.8" font-size="9.60" textLength="83.4" lengthAdjust="spacingAndGlyphs">TWI0_SCK/NCSI_D4</text>
<text x="1550.6" y="429.2" font-size="9.60" textLength="83.4" lengthAdjust="spacingAndGlyphs">TWI0_SDA/NCSI_D5</text>
<text x="1550.6" y="439.6" font-size="9.60" textLength="96.5" lengthAdjust="spacingAndGlyphs">IR-LED_EN_PWM/GPIO</text>
<text x="1550.6" y="449.9" font-size="9.60" textLength="21.9" lengthAdjust="spacingAndGlyphs">GPIO</text>
<text x="1550.6" y="460.3" font-size="9.60" textLength="46.8" lengthAdjust="spacingAndGlyphs">VCC-3V3_0</text>
<text x="1550.6" y="470.7" font-size="9.60" textLength="46.8" lengthAdjust="spacingAndGlyphs">VCC-3V3_1</text>
<text x="1550.6" y="481" font-size="9.60" textLength="24.4" lengthAdjust="spacingAndGlyphs">GND8</text>
<text x="1550.6" y="491.4" font-size="9.60" textLength="39.5" lengthAdjust="spacingAndGlyphs">VCC-5V-0</text>
<text x="1550.6" y="501.8" font-size="9.60" textLength="39.5" lengthAdjust="spacingAndGlyphs">VCC-5V-1</text>
<text x="1550.6" y="512.1" font-size="9.60" textLength="24.4" lengthAdjust="spacingAndGlyphs">GND9</text>
<text x="1550.6" y="522.5" font-size="9.60" textLength="37.1" lengthAdjust="spacingAndGlyphs">VCC-12V</text>
<text x="1550.6" y="532.9" font-size="9.60" textLength="29.3" lengthAdjust="spacingAndGlyphs">GND10</text>
<text x="1550.6" y="543.2" font-size="9.60" textLength="53.1" lengthAdjust="spacingAndGlyphs">NCSI-RESET</text>
<text x="1550.6" y="553.6" font-size="9.60" textLength="85.8" lengthAdjust="spacingAndGlyphs">MIPI_CSI_MCLK0(PI)</text>
<text x="1550.6" y="564" font-size="9.60" textLength="106.8" lengthAdjust="spacingAndGlyphs">TWI1_SCK/MIPI_CSI_SCK</text>
<text x="1550.6" y="574.3" font-size="9.60" textLength="106.8" lengthAdjust="spacingAndGlyphs">TWI1_SDA/MIPI_CSI_SDA</text>
<text x="1550.6" y="584.7" font-size="9.60" textLength="28.6" lengthAdjust="spacingAndGlyphs">GND11</text>
<text transform="translate(2292.8 83) rotate(-90)" text-anchor="middle" y="3.2">GND13</text>
<text transform="translate(2281.6 569.3) rotate(-90)" text-anchor="middle" y="3.2">GND12</text>
<text x="2161.5" y="76.8" font-size="9.60" textLength="91.2" lengthAdjust="spacingAndGlyphs">MIPI_RSTN0/NCSI_D6</text>
<text x="2161.5" y="87.2" font-size="9.60" textLength="94.1" lengthAdjust="spacingAndGlyphs">MIPI_PWDN0/NCSI_D7</text>
<text x="2161.5" y="97.5" font-size="9.60" textLength="91.7" lengthAdjust="spacingAndGlyphs">MIPI_MCLK0/NCSI_D0</text>
<text x="2161.5" y="107.9" font-size="9.60" textLength="24.4" lengthAdjust="spacingAndGlyphs">GND0</text>
<text x="2161.5" y="118.3" font-size="9.60" textLength="83.4" lengthAdjust="spacingAndGlyphs">TWI1_SCK/NCSI_D2</text>
<text x="2161.5" y="128.6" font-size="9.60" textLength="83.4" lengthAdjust="spacingAndGlyphs">TWI1_SDA/NCSI_D3</text>
<text x="2161.5" y="139" font-size="9.60" textLength="103.8" lengthAdjust="spacingAndGlyphs">IR-CUT-CTRL-(3.3VGPIO)</text>
<text x="2161.5" y="149.4" font-size="9.60" textLength="48.8" lengthAdjust="spacingAndGlyphs">DVDD(1.1V)</text>
<text x="2161.5" y="159.7" font-size="9.60" textLength="106.0" lengthAdjust="spacingAndGlyphs">IR-CUT-CTRL+(3.3VGPIO)</text>
<text x="2161.5" y="170.1" font-size="9.60" textLength="47.6" lengthAdjust="spacingAndGlyphs">AVDD(2.8V)</text>
<text x="2161.5" y="180.4" font-size="9.60" textLength="51.7" lengthAdjust="spacingAndGlyphs">IOVDD(1.8V)</text>
<text x="2161.5" y="190.8" font-size="9.60" textLength="24.4" lengthAdjust="spacingAndGlyphs">GND1</text>
<text x="2161.5" y="201.2" font-size="9.60" textLength="84.4" lengthAdjust="spacingAndGlyphs">MIPI_D0P/NCSI_D12</text>
<text x="2161.5" y="211.5" font-size="9.60" textLength="84.9" lengthAdjust="spacingAndGlyphs">MIPI_D0N/NCSI_D13</text>
<text x="2161.5" y="221.9" font-size="9.60" textLength="24.4" lengthAdjust="spacingAndGlyphs">GND2</text>
<text x="2161.5" y="232.3" font-size="9.60" textLength="83.7" lengthAdjust="spacingAndGlyphs">MIPI_D1P/NCSI_D11</text>
<text x="2161.5" y="242.6" font-size="9.60" textLength="84.9" lengthAdjust="spacingAndGlyphs">MIPI_D1N/NCSI_D10</text>
<text x="2161.5" y="253" font-size="9.60" textLength="24.4" lengthAdjust="spacingAndGlyphs">GND3</text>
<text x="2161.5" y="263.4" font-size="9.60" textLength="85.3" lengthAdjust="spacingAndGlyphs">MIPI_CK0P/NCSI_D8</text>
<text x="2161.5" y="273.7" font-size="9.60" textLength="85.8" lengthAdjust="spacingAndGlyphs">MIPI_CK0N/NCSI_D9</text>
<text x="2161.5" y="284.1" font-size="9.60" textLength="24.4" lengthAdjust="spacingAndGlyphs">GND4</text>
<text x="2161.5" y="294.5" font-size="9.60" textLength="84.4" lengthAdjust="spacingAndGlyphs">MIPI_D2P/NCSI_D15</text>
<text x="2161.5" y="304.8" font-size="9.60" textLength="84.9" lengthAdjust="spacingAndGlyphs">MIPI_D2N/NCSI_D14</text>
<text x="2161.5" y="315.2" font-size="9.60" textLength="24.4" lengthAdjust="spacingAndGlyphs">GND5</text>
<text x="2161.5" y="325.6" font-size="9.60" textLength="86.3" lengthAdjust="spacingAndGlyphs">MIPI_D3P/TWI3_SDA</text>
<text x="2161.5" y="335.9" font-size="9.60" textLength="86.8" lengthAdjust="spacingAndGlyphs">MIPI_D3N/TWI3_SCK</text>
<text x="2161.5" y="346.3" font-size="9.60" textLength="24.4" lengthAdjust="spacingAndGlyphs">GND6</text>
<text x="2161.5" y="356.7" font-size="9.60" textLength="92.2" lengthAdjust="spacingAndGlyphs">MIPI_CK1P/TWI0_SDA</text>
<text x="2161.5" y="367" font-size="9.60" textLength="92.6" lengthAdjust="spacingAndGlyphs">MIPI_CK1N/TWI0_SCK</text>
<text x="2161.5" y="377.4" font-size="9.60" textLength="104.3" lengthAdjust="spacingAndGlyphs">MIPI_RSTN1/NCSI_MCLK</text>
<text x="2161.5" y="387.7" font-size="9.60" textLength="105.8" lengthAdjust="spacingAndGlyphs">MIPI_PWDN1/NCSI_PCLK</text>
<text x="2161.5" y="398.1" font-size="9.60" textLength="24.4" lengthAdjust="spacingAndGlyphs">GND7</text>
<text x="2161.5" y="408.5" font-size="9.60" textLength="91.7" lengthAdjust="spacingAndGlyphs">MIPI_MCLK1/NCSI_D1</text>
<text x="2161.5" y="418.8" font-size="9.60" textLength="83.4" lengthAdjust="spacingAndGlyphs">TWI0_SCK/NCSI_D4</text>
<text x="2161.5" y="429.2" font-size="9.60" textLength="83.4" lengthAdjust="spacingAndGlyphs">TWI0_SDA/NCSI_D5</text>
<text x="2161.5" y="439.6" font-size="9.60" textLength="96.5" lengthAdjust="spacingAndGlyphs">IR-LED_EN_PWM/GPIO</text>
<text x="2161.5" y="449.9" font-size="9.60" textLength="21.9" lengthAdjust="spacingAndGlyphs">GPIO</text>
<text x="2161.5" y="460.3" font-size="9.60" textLength="46.8" lengthAdjust="spacingAndGlyphs">VCC-3V3_0</text>
<text x="2161.5" y="470.7" font-size="9.60" textLength="46.8" lengthAdjust="spacingAndGlyphs">VCC-3V3_1</text>
<text x="2161.5" y="481" font-size="9.60" textLength="24.4" lengthAdjust="spacingAndGlyphs">GND8</text>
<text x="2161.5" y="491.4" font-size="9.60" textLength="39.5" lengthAdjust="spacingAndGlyphs">VCC-5V-0</text>
<text x="2161.5" y="501.8" font-size="9.60" textLength="39.5" lengthAdjust="spacingAndGlyphs">VCC-5V-1</text>
<text x="2161.5" y="512.1" font-size="9.60" textLength="24.4" lengthAdjust="spacingAndGlyphs">GND9</text>
<text x="2161.5" y="522.5" font-size="9.60" textLength="37.1" lengthAdjust="spacingAndGlyphs">VCC-12V</text>
<text x="2161.5" y="532.9" font-size="9.60" textLength="29.3" lengthAdjust="spacingAndGlyphs">GND10</text>
<text x="2161.5" y="543.2" font-size="9.60" textLength="53.1" lengthAdjust="spacingAndGlyphs">NCSI-RESET</text>
<text x="2161.5" y="553.6" font-size="9.60" textLength="85.8" lengthAdjust="spacingAndGlyphs">MIPI_CSI_MCLK0(PI)</text>
<text x="2161.5" y="564" font-size="9.60" textLength="106.8" lengthAdjust="spacingAndGlyphs">TWI1_SCK/MIPI_CSI_SCK</text>
<text x="2161.5" y="574.3" font-size="9.60" textLength="106.8" lengthAdjust="spacingAndGlyphs">TWI1_SDA/MIPI_CSI_SDA</text>
<text x="2161.5" y="584.7" font-size="9.60" textLength="28.6" lengthAdjust="spacingAndGlyphs">GND11</text>
<text transform="translate(2148.1 923) rotate(-90)" text-anchor="middle" y="3.2">GND13</text>
<text transform="translate(2136.9 1409.3) rotate(-90)" text-anchor="middle" y="3.2">GND12</text>
<text x="2016.8" y="916.8" font-size="9.60" textLength="91.2" lengthAdjust="spacingAndGlyphs">MIPI_RSTN0/NCSI_D6</text>
<text x="2016.8" y="927.1" font-size="9.60" textLength="94.1" lengthAdjust="spacingAndGlyphs">MIPI_PWDN0/NCSI_D7</text>
<text x="2016.8" y="937.5" font-size="9.60" textLength="91.7" lengthAdjust="spacingAndGlyphs">MIPI_MCLK0/NCSI_D0</text>
<text x="2016.8" y="947.8" font-size="9.60" textLength="24.4" lengthAdjust="spacingAndGlyphs">GND0</text>
<text x="2016.8" y="958.1" font-size="9.60" textLength="83.4" lengthAdjust="spacingAndGlyphs">TWI1_SCK/NCSI_D2</text>
<text x="2016.8" y="968.5" font-size="9.60" textLength="83.4" lengthAdjust="spacingAndGlyphs">TWI1_SDA/NCSI_D3</text>
<text x="2016.8" y="978.8" font-size="9.60" textLength="103.8" lengthAdjust="spacingAndGlyphs">IR-CUT-CTRL-(3.3VGPIO)</text>
<text x="2016.8" y="989.1" font-size="9.60" textLength="48.8" lengthAdjust="spacingAndGlyphs">DVDD(1.1V)</text>
<text x="2016.8" y="999.5" font-size="9.60" textLength="106.0" lengthAdjust="spacingAndGlyphs">IR-CUT-CTRL+(3.3VGPIO)</text>
<text x="2016.8" y="1009.8" font-size="9.60" textLength="47.6" lengthAdjust="spacingAndGlyphs">AVDD(2.8V)</text>
<text x="2016.8" y="1020.2" font-size="9.60" textLength="51.7" lengthAdjust="spacingAndGlyphs">IOVDD(1.8V)</text>
<text x="2016.8" y="1030.5" font-size="9.60" textLength="24.4" lengthAdjust="spacingAndGlyphs">GND1</text>
<text x="2016.8" y="1040.8" font-size="9.60" textLength="84.4" lengthAdjust="spacingAndGlyphs">MIPI_D0P/NCSI_D12</text>
<text x="2016.8" y="1051.2" font-size="9.60" textLength="84.9" lengthAdjust="spacingAndGlyphs">MIPI_D0N/NCSI_D13</text>
<text x="2016.8" y="1061.5" font-size="9.60" textLength="24.4" lengthAdjust="spacingAndGlyphs">GND2</text>
<text x="2016.8" y="1071.8" font-size="9.60" textLength="83.7" lengthAdjust="spacingAndGlyphs">MIPI_D1P/NCSI_D11</text>
<text x="2016.8" y="1082.2" font-size="9.60" textLength="84.9" lengthAdjust="spacingAndGlyphs">MIPI_D1N/NCSI_D10</text>
<text x="2016.8" y="1092.5" font-size="9.60" textLength="24.4" lengthAdjust="spacingAndGlyphs">GND3</text>
<text x="2016.8" y="1102.8" font-size="9.60" textLength="85.3" lengthAdjust="spacingAndGlyphs">MIPI_CK0P/NCSI_D8</text>
<text x="2016.8" y="1113.2" font-size="9.60" textLength="85.8" lengthAdjust="spacingAndGlyphs">MIPI_CK0N/NCSI_D9</text>
<text x="2016.8" y="1123.5" font-size="9.60" textLength="24.4" lengthAdjust="spacingAndGlyphs">GND4</text>
<text x="2016.8" y="1133.8" font-size="9.60" textLength="84.4" lengthAdjust="spacingAndGlyphs">MIPI_D2P/NCSI_D15</text>
<text x="2016.8" y="1144.2" font-size="9.60" textLength="84.9" lengthAdjust="spacingAndGlyphs">MIPI_D2N/NCSI_D14</text>
<text x="2016.8" y="1154.5" font-size="9.60" textLength="24.4" lengthAdjust="spacingAndGlyphs">GND5</text>
<text x="2016.8" y="1164.8" font-size="9.60" textLength="86.3" lengthAdjust="spacingAndGlyphs">MIPI_D3P/TWI3_SDA</text>
<text x="2016.8" y="1175.2" font-size="9.60" textLength="86.8" lengthAdjust="spacingAndGlyphs">MIPI_D3N/TWI3_SCK</text>
<text x="2016.8" y="1185.5" font-size="9.60" textLength="24.4" lengthAdjust="spacingAndGlyphs">GND6</text>
<text x="2016.8" y="1195.8" font-size="9.60" textLength="92.2" lengthAdjust="spacingAndGlyphs">MIPI_CK1P/TWI0_SDA</text>
<text x="2016.8" y="1206.2" font-size="9.60" textLength="92.6" lengthAdjust="spacingAndGlyphs">MIPI_CK1N/TWI0_SCK</text>
<text x="2016.8" y="1216.5" font-size="9.60" textLength="104.3" lengthAdjust="spacingAndGlyphs">MIPI_RSTN1/NCSI_MCLK</text>
<text x="2016.8" y="1226.9" font-size="9.60" textLength="105.8" lengthAdjust="spacingAndGlyphs">MIPI_PWDN1/NCSI_PCLK</text>
<text x="2016.8" y="1237.2" font-size="9.60" textLength="24.4" lengthAdjust="spacingAndGlyphs">GND7</text>
<text x="2016.8" y="1247.5" font-size="9.60" textLength="91.7" lengthAdjust="spacingAndGlyphs">MIPI_MCLK1/NCSI_D1</text>
<text x="2016.8" y="1257.9" font-size="9.60" textLength="83.4" lengthAdjust="spacingAndGlyphs">TWI0_SCK/NCSI_D4</text>
<text x="2016.8" y="1268.2" font-size="9.60" textLength="83.4" lengthAdjust="spacingAndGlyphs">TWI0_SDA/NCSI_D5</text>
<text x="2016.8" y="1278.5" font-size="9.60" textLength="96.5" lengthAdjust="spacingAndGlyphs">IR-LED_EN_PWM/GPIO</text>
<text x="2016.8" y="1288.9" font-size="9.60" textLength="21.9" lengthAdjust="spacingAndGlyphs">GPIO</text>
<text x="2016.8" y="1299.2" font-size="9.60" textLength="46.8" lengthAdjust="spacingAndGlyphs">VCC-3V3_0</text>
<text x="2016.8" y="1309.5" font-size="9.60" textLength="46.8" lengthAdjust="spacingAndGlyphs">VCC-3V3_1</text>
<text x="2016.8" y="1319.9" font-size="9.60" textLength="24.4" lengthAdjust="spacingAndGlyphs">GND8</text>
<text x="2016.8" y="1330.2" font-size="9.60" textLength="39.5" lengthAdjust="spacingAndGlyphs">VCC-5V-0</text>
<text x="2016.8" y="1340.5" font-size="9.60" textLength="39.5" lengthAdjust="spacingAndGlyphs">VCC-5V-1</text>
<text x="2016.8" y="1350.9" font-size="9.60" textLength="24.4" lengthAdjust="spacingAndGlyphs">GND9</text>
<text x="2016.8" y="1361.2" font-size="9.60" textLength="37.1" lengthAdjust="spacingAndGlyphs">VCC-12V</text>
<text x="2016.8" y="1371.5" font-size="9.60" textLength="29.3" lengthAdjust="spacingAndGlyphs">GND10</text>
<text x="2016.8" y="1381.9" font-size="9.60" textLength="53.1" lengthAdjust="spacingAndGlyphs">NCSI-RESET</text>
<text x="2016.8" y="1392.2" font-size="9.60" textLength="85.8" lengthAdjust="spacingAndGlyphs">MIPI_CSI_MCLK0(PI)</text>
<text x="2016.8" y="1402.5" font-size="9.60" textLength="106.8" lengthAdjust="spacingAndGlyphs">TWI1_SCK/MIPI_CSI_SCK</text>
<text x="2016.8" y="1412.9" font-size="9.60" textLength="106.8" lengthAdjust="spacingAndGlyphs">TWI1_SDA/MIPI_CSI_SDA</text>
<text x="2016.8" y="1423.2" font-size="9.60" textLength="28.6" lengthAdjust="spacingAndGlyphs">GND11</text>
<text x="1248.5" y="1227.2" font-size="9.60" textLength="16.6" lengthAdjust="spacingAndGlyphs">SEL</text>
<text x="1248.5" y="1248.9" font-size="9.60" textLength="12.7" lengthAdjust="spacingAndGlyphs">OE</text>
<text x="1248.5" y="1269.6" font-size="9.60" textLength="22.9" lengthAdjust="spacingAndGlyphs">CLKP</text>
<text x="1248.5" y="1279.9" font-size="9.60" textLength="23.4" lengthAdjust="spacingAndGlyphs">CLKN</text>
<text x="1248.5" y="1310.4" font-size="9.60" textLength="17.1" lengthAdjust="spacingAndGlyphs">D1P</text>
<text x="1248.5" y="1320.8" font-size="9.60" textLength="17.6" lengthAdjust="spacingAndGlyphs">D1N</text>
<text x="1248.5" y="1351.6" font-size="9.60" textLength="17.1" lengthAdjust="spacingAndGlyphs">D2P</text>
<text x="1248.5" y="1362" font-size="9.60" textLength="17.6" lengthAdjust="spacingAndGlyphs">D2N</text>
<text x="1248.5" y="1403.2" font-size="9.60" textLength="19.5" lengthAdjust="spacingAndGlyphs">GND</text>
<text x="1340" y="1227.2" font-size="9.60" text-anchor="end" textLength="18.5" lengthAdjust="spacingAndGlyphs">VCC</text>
<text x="1340" y="1248.9" font-size="9.60" text-anchor="end" textLength="28.8" lengthAdjust="spacingAndGlyphs">CLKAP</text>
<text x="1340" y="1259.3" font-size="9.60" text-anchor="end" textLength="29.3" lengthAdjust="spacingAndGlyphs">CLKAN</text>
<text x="1340" y="1269.6" font-size="9.60" text-anchor="end" textLength="22.9" lengthAdjust="spacingAndGlyphs">DA1P</text>
<text x="1340" y="1279.9" font-size="9.60" text-anchor="end" textLength="23.4" lengthAdjust="spacingAndGlyphs">DA1N</text>
<text x="1340" y="1290.1" font-size="9.60" text-anchor="end" textLength="22.9" lengthAdjust="spacingAndGlyphs">DA2P</text>
<text x="1340" y="1300.4" font-size="9.60" text-anchor="end" textLength="23.4" lengthAdjust="spacingAndGlyphs">DA2N</text>
<text x="1340" y="1320.8" font-size="9.60" text-anchor="end" textLength="28.8" lengthAdjust="spacingAndGlyphs">CLKBP</text>
<text x="1340" y="1331.2" font-size="9.60" text-anchor="end" textLength="29.3" lengthAdjust="spacingAndGlyphs">CLKBN</text>
<text x="1340" y="1341.5" font-size="9.60" text-anchor="end" textLength="22.9" lengthAdjust="spacingAndGlyphs">DB1P</text>
<text x="1340" y="1351.7" font-size="9.60" text-anchor="end" textLength="23.4" lengthAdjust="spacingAndGlyphs">DB1N</text>
<text x="1340" y="1362" font-size="9.60" text-anchor="end" textLength="22.9" lengthAdjust="spacingAndGlyphs">DB2P</text>
<text x="1340" y="1372.1" font-size="9.60" text-anchor="end" textLength="23.4" lengthAdjust="spacingAndGlyphs">DB2N</text>
<text x="1340" y="1393.1" font-size="9.60" text-anchor="end" textLength="17.6" lengthAdjust="spacingAndGlyphs">NC1</text>
<text x="1340" y="1403.2" font-size="9.60" text-anchor="end" textLength="17.6" lengthAdjust="spacingAndGlyphs">NC2</text>
</g>
<g fill="#000000" stroke="#000000" stroke-width="0.25">
<text x="364.6" y="69" text-anchor="end">1</text>
<text x="364.6" y="79.4" text-anchor="end">2</text>
<text x="364.6" y="89.7" text-anchor="end">3</text>
<text x="364.6" y="100.1" text-anchor="end">4</text>
<text x="364.6" y="110.5" text-anchor="end">5</text>
<text x="364.6" y="120.8" text-anchor="end">6</text>
<text x="364.6" y="131.2" text-anchor="end">7</text>
<text x="364.6" y="141.6" text-anchor="end">8</text>
<text x="364.6" y="151.9" text-anchor="end">9</text>
<text x="364.6" y="162.3" text-anchor="end">10</text>
<text x="364.6" y="172.7" text-anchor="end">11</text>
<text x="364.6" y="183" text-anchor="end">12</text>
<text x="364.6" y="193.4" text-anchor="end">13</text>
<text x="364.6" y="203.7" text-anchor="end">14</text>
<text x="364.6" y="214.1" text-anchor="end">15</text>
<text x="364.6" y="224.5" text-anchor="end">16</text>
<text x="364.6" y="234.8" text-anchor="end">17</text>
<text x="364.6" y="245.2" text-anchor="end">18</text>
<text x="364.6" y="255.6" text-anchor="end">19</text>
<text x="364.6" y="265.9" text-anchor="end">20</text>
<text x="364.6" y="276.3" text-anchor="end">21</text>
<text x="364.6" y="286.7" text-anchor="end">22</text>
<text x="364.6" y="297" text-anchor="end">23</text>
<text x="364.6" y="307.4" text-anchor="end">24</text>
<text x="364.6" y="317.8" text-anchor="end">25</text>
<text x="364.6" y="328.1" text-anchor="end">26</text>
<text x="364.6" y="338.5" text-anchor="end">27</text>
<text x="364.6" y="348.9" text-anchor="end">28</text>
<text x="364.6" y="359.2" text-anchor="end">29</text>
<text x="364.6" y="369.6" text-anchor="end">30</text>
<text x="364.6" y="379.9" text-anchor="end">31</text>
<text x="364.6" y="390.3" text-anchor="end">32</text>
<text x="364.6" y="400.7" text-anchor="end">33</text>
<text x="364.6" y="411" text-anchor="end">34</text>
<text x="364.6" y="421.4" text-anchor="end">35</text>
<text x="364.6" y="431.8" text-anchor="end">36</text>
<text x="364.6" y="442.1" text-anchor="end">37</text>
<text x="364.6" y="452.5" text-anchor="end">38</text>
<text x="364.6" y="462.9" text-anchor="end">39</text>
<text x="364.6" y="473.2" text-anchor="end">40</text>
<text x="364.6" y="483.6" text-anchor="end">41</text>
<text x="364.6" y="494" text-anchor="end">42</text>
<text x="364.6" y="504.3" text-anchor="end">43</text>
<text x="364.6" y="514.7" text-anchor="end">44</text>
<text x="364.6" y="525.1" text-anchor="end">45</text>
<text x="364.6" y="535.4" text-anchor="end">46</text>
<text x="364.6" y="545.8" text-anchor="end">47</text>
<text x="364.6" y="556.2" text-anchor="end">48</text>
<text x="364.6" y="566.5" text-anchor="end">49</text>
<text x="364.6" y="576.9" text-anchor="end">50</text>
<text x="538.8" y="651.2" text-anchor="middle" letter-spacing="1">GND</text>
<text transform="translate(500.5 49.8) rotate(-90)" text-anchor="middle" y="3.2">S2</text>
<text transform="translate(490.5 603.2) rotate(-90)" text-anchor="middle" y="3.2">S1</text>
<text x="332" y="651.2" text-anchor="middle" letter-spacing="1">GND</text>
<text x="300" y="132.7">R0402</text>
<text x="300" y="153.4">R0402</text>
<text x="310.5" y="412.5">R0402</text>
<text x="87.7" y="133.8" font-size="9.50" textLength="43.5" lengthAdjust="spacingAndGlyphs">DVDD-CSI</text>
<text x="46" y="154.5" font-size="9.50" textLength="42.3" lengthAdjust="spacingAndGlyphs">AVDD-CSI</text>
<text x="72.6" y="442.2" font-size="9.50" textLength="38.0" lengthAdjust="spacingAndGlyphs">VCC-3V3</text>
<text x="164.2" y="496.2">C0603</text>
<text x="227.1" y="496.2">C0402</text>
<text x="76.8" y="503.9" font-size="9.50" textLength="33.0" lengthAdjust="spacingAndGlyphs">VCC-5V</text>
<text x="164.2" y="557.9">C0603</text>
<text x="227.1" y="557.9">C0402</text>
<text x="74" y="566.5" font-size="9.50" textLength="41.0" lengthAdjust="spacingAndGlyphs">DCIN-12V</text>
<text x="164.2" y="620.5">C0603</text>
<text x="227.1" y="620.5">C0402</text>
<text x="955.4" y="69" text-anchor="end">1</text>
<text x="955.4" y="79.4" text-anchor="end">2</text>
<text x="955.4" y="89.7" text-anchor="end">3</text>
<text x="955.4" y="100.1" text-anchor="end">4</text>
<text x="955.4" y="110.5" text-anchor="end">5</text>
<text x="955.4" y="120.8" text-anchor="end">6</text>
<text x="955.4" y="131.2" text-anchor="end">7</text>
<text x="955.4" y="141.6" text-anchor="end">8</text>
<text x="955.4" y="151.9" text-anchor="end">9</text>
<text x="955.4" y="162.3" text-anchor="end">10</text>
<text x="955.4" y="172.7" text-anchor="end">11</text>
<text x="955.4" y="183" text-anchor="end">12</text>
<text x="955.4" y="193.4" text-anchor="end">13</text>
<text x="955.4" y="203.7" text-anchor="end">14</text>
<text x="955.4" y="214.1" text-anchor="end">15</text>
<text x="955.4" y="224.5" text-anchor="end">16</text>
<text x="955.4" y="234.8" text-anchor="end">17</text>
<text x="955.4" y="245.2" text-anchor="end">18</text>
<text x="955.4" y="255.6" text-anchor="end">19</text>
<text x="955.4" y="265.9" text-anchor="end">20</text>
<text x="955.4" y="276.3" text-anchor="end">21</text>
<text x="955.4" y="286.7" text-anchor="end">22</text>
<text x="955.4" y="297" text-anchor="end">23</text>
<text x="955.4" y="307.4" text-anchor="end">24</text>
<text x="955.4" y="317.8" text-anchor="end">25</text>
<text x="955.4" y="328.1" text-anchor="end">26</text>
<text x="955.4" y="338.5" text-anchor="end">27</text>
<text x="955.4" y="348.9" text-anchor="end">28</text>
<text x="955.4" y="359.2" text-anchor="end">29</text>
<text x="955.4" y="369.6" text-anchor="end">30</text>
<text x="955.4" y="379.9" text-anchor="end">31</text>
<text x="955.4" y="390.3" text-anchor="end">32</text>
<text x="955.4" y="400.7" text-anchor="end">33</text>
<text x="955.4" y="411" text-anchor="end">34</text>
<text x="955.4" y="421.4" text-anchor="end">35</text>
<text x="955.4" y="431.8" text-anchor="end">36</text>
<text x="955.4" y="442.1" text-anchor="end">37</text>
<text x="955.4" y="452.5" text-anchor="end">38</text>
<text x="955.4" y="462.9" text-anchor="end">39</text>
<text x="955.4" y="473.2" text-anchor="end">40</text>
<text x="955.4" y="483.6" text-anchor="end">41</text>
<text x="955.4" y="494" text-anchor="end">42</text>
<text x="955.4" y="504.3" text-anchor="end">43</text>
<text x="955.4" y="514.7" text-anchor="end">44</text>
<text x="955.4" y="525.1" text-anchor="end">45</text>
<text x="955.4" y="535.4" text-anchor="end">46</text>
<text x="955.4" y="545.8" text-anchor="end">47</text>
<text x="955.4" y="556.2" text-anchor="end">48</text>
<text x="955.4" y="566.5" text-anchor="end">49</text>
<text x="955.4" y="576.9" text-anchor="end">50</text>
<text x="1130.6" y="651.2" text-anchor="middle" letter-spacing="1">GND</text>
<text transform="translate(1091.3 49.8) rotate(-90)" text-anchor="middle" y="3.2">S2</text>
<text transform="translate(1081.3 603.2) rotate(-90)" text-anchor="middle" y="3.2">S1</text>
<text x="922.5" y="651.2" text-anchor="middle" letter-spacing="1">GND</text>
<text x="679.4" y="133.8" font-size="9.50" textLength="43.5" lengthAdjust="spacingAndGlyphs">DVDD-CSI</text>
<text x="636.3" y="154.5" font-size="9.50" textLength="42.3" lengthAdjust="spacingAndGlyphs">AVDD-CSI</text>
<text x="586.2" y="164.9" font-size="9.50" textLength="46.5" lengthAdjust="spacingAndGlyphs">IOVDD-CSI</text>
<text x="693.5" y="442.2" font-size="9.50" textLength="38.0" lengthAdjust="spacingAndGlyphs">VCC-3V3</text>
<text x="787.4" y="516.8" text-anchor="middle" letter-spacing="1">GND</text>
<text x="754.8" y="496.2">C0603</text>
<text x="807.8" y="516.8" text-anchor="middle" letter-spacing="1">GND</text>
<text x="817.8" y="496.2">C0402</text>
<text x="699.4" y="503.9" font-size="9.50" textLength="33.0" lengthAdjust="spacingAndGlyphs">VCC-5V</text>
<text x="787.4" y="578.5" text-anchor="middle" letter-spacing="1">GND</text>
<text x="754.8" y="557.9">C0603</text>
<text x="807.8" y="578.5" text-anchor="middle" letter-spacing="1">GND</text>
<text x="817.8" y="557.9">C0402</text>
<text x="695.5" y="566.3" font-size="9.50" textLength="41.0" lengthAdjust="spacingAndGlyphs">DCIN-12V</text>
<text x="787.4" y="640.9" text-anchor="middle" letter-spacing="1">GND</text>
<text x="754.8" y="620.3">C0603</text>
<text x="807.8" y="640.9" text-anchor="middle" letter-spacing="1">GND</text>
<text x="817.8" y="620.3">C0402</text>
<text x="1537.1" y="69" text-anchor="end">1</text>
<text x="1537.1" y="79.4" text-anchor="end">2</text>
<text x="1537.1" y="89.7" text-anchor="end">3</text>
<text x="1537.1" y="100.1" text-anchor="end">4</text>
<text x="1537.1" y="110.5" text-anchor="end">5</text>
<text x="1537.1" y="120.8" text-anchor="end">6</text>
<text x="1537.1" y="131.2" text-anchor="end">7</text>
<text x="1537.1" y="141.6" text-anchor="end">8</text>
<text x="1537.1" y="151.9" text-anchor="end">9</text>
<text x="1537.1" y="162.3" text-anchor="end">10</text>
<text x="1537.1" y="172.7" text-anchor="end">11</text>
<text x="1537.1" y="183" text-anchor="end">12</text>
<text x="1537.1" y="193.4" text-anchor="end">13</text>
<text x="1537.1" y="203.7" text-anchor="end">14</text>
<text x="1537.1" y="214.1" text-anchor="end">15</text>
<text x="1537.1" y="224.5" text-anchor="end">16</text>
<text x="1537.1" y="234.8" text-anchor="end">17</text>
<text x="1537.1" y="245.2" text-anchor="end">18</text>
<text x="1537.1" y="255.6" text-anchor="end">19</text>
<text x="1537.1" y="265.9" text-anchor="end">20</text>
<text x="1537.1" y="276.3" text-anchor="end">21</text>
<text x="1537.1" y="286.7" text-anchor="end">22</text>
<text x="1537.1" y="297" text-anchor="end">23</text>
<text x="1537.1" y="307.4" text-anchor="end">24</text>
<text x="1537.1" y="317.8" text-anchor="end">25</text>
<text x="1537.1" y="328.1" text-anchor="end">26</text>
<text x="1537.1" y="338.5" text-anchor="end">27</text>
<text x="1537.1" y="348.9" text-anchor="end">28</text>
<text x="1537.1" y="359.2" text-anchor="end">29</text>
<text x="1537.1" y="369.6" text-anchor="end">30</text>
<text x="1537.1" y="379.9" text-anchor="end">31</text>
<text x="1537.1" y="390.3" text-anchor="end">32</text>
<text x="1537.1" y="400.7" text-anchor="end">33</text>
<text x="1537.1" y="411" text-anchor="end">34</text>
<text x="1537.1" y="421.4" text-anchor="end">35</text>
<text x="1537.1" y="431.8" text-anchor="end">36</text>
<text x="1537.1" y="442.1" text-anchor="end">37</text>
<text x="1537.1" y="452.5" text-anchor="end">38</text>
<text x="1537.1" y="462.9" text-anchor="end">39</text>
<text x="1537.1" y="473.2" text-anchor="end">40</text>
<text x="1537.1" y="483.6" text-anchor="end">41</text>
<text x="1537.1" y="494" text-anchor="end">42</text>
<text x="1537.1" y="504.3" text-anchor="end">43</text>
<text x="1537.1" y="514.7" text-anchor="end">44</text>
<text x="1537.1" y="525.1" text-anchor="end">45</text>
<text x="1537.1" y="535.4" text-anchor="end">46</text>
<text x="1537.1" y="545.8" text-anchor="end">47</text>
<text x="1537.1" y="556.2" text-anchor="end">48</text>
<text x="1537.1" y="566.5" text-anchor="end">49</text>
<text x="1537.1" y="576.9" text-anchor="end">50</text>
<text x="1711.3" y="661.4" text-anchor="middle" letter-spacing="1">GND</text>
<text transform="translate(1673 49.8) rotate(-90)" text-anchor="middle" y="3.2">S2</text>
<text transform="translate(1663 603.2) rotate(-90)" text-anchor="middle" y="3.2">S1</text>
<text x="1503" y="661.4" text-anchor="middle" letter-spacing="1">GND</text>
<text x="1280.4" y="133.8" font-size="9.50" textLength="43.5" lengthAdjust="spacingAndGlyphs">DVDD-CSI</text>
<text x="1218" y="154.5" font-size="9.50" textLength="42.3" lengthAdjust="spacingAndGlyphs">AVDD-CSI</text>
<text x="1166.5" y="164.9" font-size="9.50" textLength="46.5" lengthAdjust="spacingAndGlyphs">IOVDD-CSI</text>
<text x="1275.2" y="452.6" font-size="9.50" textLength="38.0" lengthAdjust="spacingAndGlyphs">VCC-3V3</text>
<text x="1368.2" y="527.2" text-anchor="middle" letter-spacing="1">GND</text>
<text x="1335.6" y="506.6">C0603</text>
<text x="1388.9" y="527.2" text-anchor="middle" letter-spacing="1">GND</text>
<text x="1398.9" y="506.6">C0402</text>
<text x="1280" y="514.2" font-size="9.50" textLength="33.0" lengthAdjust="spacingAndGlyphs">VCC-5V</text>
<text x="1368.2" y="588.8" text-anchor="middle" letter-spacing="1">GND</text>
<text x="1335.6" y="568.2">C0603</text>
<text x="1388.9" y="588.8" text-anchor="middle" letter-spacing="1">GND</text>
<text x="1398.9" y="568.2">C0402</text>
<text x="1277" y="576.8" font-size="9.50" textLength="41.0" lengthAdjust="spacingAndGlyphs">DCIN-12V</text>
<text x="1368.2" y="651.4" text-anchor="middle" letter-spacing="1">GND</text>
<text x="1335.6" y="630.8">C0603</text>
<text x="1388.9" y="651.4" text-anchor="middle" letter-spacing="1">GND</text>
<text x="1398.9" y="630.8">C0402</text>
<text x="2148" y="69" text-anchor="end">1</text>
<text x="2148" y="79.4" text-anchor="end">2</text>
<text x="2148" y="89.7" text-anchor="end">3</text>
<text x="2148" y="100.1" text-anchor="end">4</text>
<text x="2148" y="110.5" text-anchor="end">5</text>
<text x="2148" y="120.8" text-anchor="end">6</text>
<text x="2148" y="131.2" text-anchor="end">7</text>
<text x="2148" y="141.6" text-anchor="end">8</text>
<text x="2148" y="151.9" text-anchor="end">9</text>
<text x="2148" y="162.3" text-anchor="end">10</text>
<text x="2148" y="172.7" text-anchor="end">11</text>
<text x="2148" y="183" text-anchor="end">12</text>
<text x="2148" y="193.4" text-anchor="end">13</text>
<text x="2148" y="203.7" text-anchor="end">14</text>
<text x="2148" y="214.1" text-anchor="end">15</text>
<text x="2148" y="224.5" text-anchor="end">16</text>
<text x="2148" y="234.8" text-anchor="end">17</text>
<text x="2148" y="245.2" text-anchor="end">18</text>
<text x="2148" y="255.6" text-anchor="end">19</text>
<text x="2148" y="265.9" text-anchor="end">20</text>
<text x="2148" y="276.3" text-anchor="end">21</text>
<text x="2148" y="286.7" text-anchor="end">22</text>
<text x="2148" y="297" text-anchor="end">23</text>
<text x="2148" y="307.4" text-anchor="end">24</text>
<text x="2148" y="317.8" text-anchor="end">25</text>
<text x="2148" y="328.1" text-anchor="end">26</text>
<text x="2148" y="338.5" text-anchor="end">27</text>
<text x="2148" y="348.9" text-anchor="end">28</text>
<text x="2148" y="359.2" text-anchor="end">29</text>
<text x="2148" y="369.6" text-anchor="end">30</text>
<text x="2148" y="379.9" text-anchor="end">31</text>
<text x="2148" y="390.3" text-anchor="end">32</text>
<text x="2148" y="400.7" text-anchor="end">33</text>
<text x="2148" y="411" text-anchor="end">34</text>
<text x="2148" y="421.4" text-anchor="end">35</text>
<text x="2148" y="431.8" text-anchor="end">36</text>
<text x="2148" y="442.1" text-anchor="end">37</text>
<text x="2148" y="452.5" text-anchor="end">38</text>
<text x="2148" y="462.9" text-anchor="end">39</text>
<text x="2148" y="473.2" text-anchor="end">40</text>
<text x="2148" y="483.6" text-anchor="end">41</text>
<text x="2148" y="494" text-anchor="end">42</text>
<text x="2148" y="504.3" text-anchor="end">43</text>
<text x="2148" y="514.7" text-anchor="end">44</text>
<text x="2148" y="525.1" text-anchor="end">45</text>
<text x="2148" y="535.4" text-anchor="end">46</text>
<text x="2148" y="545.8" text-anchor="end">47</text>
<text x="2148" y="556.2" text-anchor="end">48</text>
<text x="2148" y="566.5" text-anchor="end">49</text>
<text x="2148" y="576.9" text-anchor="end">50</text>
<text x="2322.2" y="661.5" text-anchor="middle" letter-spacing="1">GND</text>
<text transform="translate(2283.9 49.8) rotate(-90)" text-anchor="middle" y="3.2">S2</text>
<text transform="translate(2273.9 603.2) rotate(-90)" text-anchor="middle" y="3.2">S1</text>
<text x="2115.2" y="661.5" text-anchor="middle" letter-spacing="1">GND</text>
<text x="1893" y="133.8" font-size="9.50" textLength="43.5" lengthAdjust="spacingAndGlyphs">DVDD-CSI</text>
<text x="1829.5" y="154.5" font-size="9.50" textLength="42.3" lengthAdjust="spacingAndGlyphs">AVDD-CSI</text>
<text x="1778.4" y="164.9" font-size="9.50" textLength="46.5" lengthAdjust="spacingAndGlyphs">IOVDD-CSI</text>
<text x="1886.3" y="452.6" font-size="9.50" textLength="38.0" lengthAdjust="spacingAndGlyphs">VCC-3V3</text>
<text x="1980.1" y="527.2" text-anchor="middle" letter-spacing="1">GND</text>
<text x="1947.5" y="506.6">C0603</text>
<text x="2000.3" y="527.2" text-anchor="middle" letter-spacing="1">GND</text>
<text x="2010.3" y="506.6">C0402</text>
<text x="1892.3" y="514" font-size="9.50" textLength="33.0" lengthAdjust="spacingAndGlyphs">VCC-5V</text>
<text x="1980.1" y="588.6" text-anchor="middle" letter-spacing="1">GND</text>
<text x="1947.5" y="568">C0603</text>
<text x="2000.3" y="588.6" text-anchor="middle" letter-spacing="1">GND</text>
<text x="2010.3" y="568">C0402</text>
<text x="1888" y="576.7" font-size="9.50" textLength="41.0" lengthAdjust="spacingAndGlyphs">DCIN-12V</text>
<text x="1980.1" y="651.3" text-anchor="middle" letter-spacing="1">GND</text>
<text x="1947.5" y="630.7">C0603</text>
<text x="2000.3" y="651.3" text-anchor="middle" letter-spacing="1">GND</text>
<text x="2010.3" y="630.7">C0402</text>
<text x="2031.7" y="682.7">R0603</text>
<text x="2031.7" y="703.3">R0603</text>
<text x="2003.3" y="909" text-anchor="end">1</text>
<text x="2003.3" y="919.3" text-anchor="end">2</text>
<text x="2003.3" y="929.7" text-anchor="end">3</text>
<text x="2003.3" y="940" text-anchor="end">4</text>
<text x="2003.3" y="950.3" text-anchor="end">5</text>
<text x="2003.3" y="960.7" text-anchor="end">6</text>
<text x="2003.3" y="971" text-anchor="end">7</text>
<text x="2003.3" y="981.3" text-anchor="end">8</text>
<text x="2003.3" y="991.7" text-anchor="end">9</text>
<text x="2003.3" y="1002" text-anchor="end">10</text>
<text x="2003.3" y="1012.4" text-anchor="end">11</text>
<text x="2003.3" y="1022.7" text-anchor="end">12</text>
<text x="2003.3" y="1033" text-anchor="end">13</text>
<text x="2003.3" y="1043.4" text-anchor="end">14</text>
<text x="2003.3" y="1053.7" text-anchor="end">15</text>
<text x="2003.3" y="1064" text-anchor="end">16</text>
<text x="2003.3" y="1074.4" text-anchor="end">17</text>
<text x="2003.3" y="1084.7" text-anchor="end">18</text>
<text x="2003.3" y="1095" text-anchor="end">19</text>
<text x="2003.3" y="1105.4" text-anchor="end">20</text>
<text x="2003.3" y="1115.7" text-anchor="end">21</text>
<text x="2003.3" y="1126" text-anchor="end">22</text>
<text x="2003.3" y="1136.4" text-anchor="end">23</text>
<text x="2003.3" y="1146.7" text-anchor="end">24</text>
<text x="2003.3" y="1157" text-anchor="end">25</text>
<text x="2003.3" y="1167.4" text-anchor="end">26</text>
<text x="2003.3" y="1177.7" text-anchor="end">27</text>
<text x="2003.3" y="1188" text-anchor="end">28</text>
<text x="2003.3" y="1198.4" text-anchor="end">29</text>
<text x="2003.3" y="1208.7" text-anchor="end">30</text>
<text x="2003.3" y="1219.1" text-anchor="end">31</text>
<text x="2003.3" y="1229.4" text-anchor="end">32</text>
<text x="2003.3" y="1239.7" text-anchor="end">33</text>
<text x="2003.3" y="1250.1" text-anchor="end">34</text>
<text x="2003.3" y="1260.4" text-anchor="end">35</text>
<text x="2003.3" y="1270.7" text-anchor="end">36</text>
<text x="2003.3" y="1281.1" text-anchor="end">37</text>
<text x="2003.3" y="1291.4" text-anchor="end">38</text>
<text x="2003.3" y="1301.7" text-anchor="end">39</text>
<text x="2003.3" y="1312.1" text-anchor="end">40</text>
<text x="2003.3" y="1322.4" text-anchor="end">41</text>
<text x="2003.3" y="1332.7" text-anchor="end">42</text>
<text x="2003.3" y="1343.1" text-anchor="end">43</text>
<text x="2003.3" y="1353.4" text-anchor="end">44</text>
<text x="2003.3" y="1363.7" text-anchor="end">45</text>
<text x="2003.3" y="1374.1" text-anchor="end">46</text>
<text x="2003.3" y="1384.4" text-anchor="end">47</text>
<text x="2003.3" y="1394.7" text-anchor="end">48</text>
<text x="2003.3" y="1405.1" text-anchor="end">49</text>
<text x="2003.3" y="1415.4" text-anchor="end">50</text>
<text x="2177.5" y="1490.3" text-anchor="middle" letter-spacing="1">GND</text>
<text transform="translate(2139.2 889.8) rotate(-90)" text-anchor="middle" y="3.2">S2</text>
<text transform="translate(2129.2 1443.2) rotate(-90)" text-anchor="middle" y="3.2">S1</text>
<text x="1970.5" y="1490.3" text-anchor="middle" letter-spacing="1">GND</text>
<text x="1727.6" y="973.5" font-size="9.50" textLength="43.5" lengthAdjust="spacingAndGlyphs">DVDD-CSI</text>
<text x="1684.4" y="994.2" font-size="9.50" textLength="42.3" lengthAdjust="spacingAndGlyphs">AVDD-CSI</text>
<text x="1634.3" y="1004.5" font-size="9.50" textLength="46.5" lengthAdjust="spacingAndGlyphs">IOVDD-CSI</text>
<text x="1741" y="1281.1" font-size="9.50" textLength="38.0" lengthAdjust="spacingAndGlyphs">VCC-3V3</text>
<text x="1802.4" y="1335.1">C0603</text>
<text x="1865.8" y="1335.1">C0402</text>
<text x="1747.3" y="1342.6" font-size="9.50" textLength="33.0" lengthAdjust="spacingAndGlyphs">VCC-5V</text>
<text x="1802.4" y="1396.6">C0603</text>
<text x="1865.8" y="1396.6">C0402</text>
<text x="1743.2" y="1405.1" font-size="9.50" textLength="41.0" lengthAdjust="spacingAndGlyphs">DCIN-12V</text>
<text x="1802.4" y="1459.1">C0603</text>
<text x="1865.8" y="1459.1">C0402</text>
<text x="1887.1" y="1520.9">R0603</text>
<text x="1887.1" y="1541.5">R0603</text>
<text x="1296.7" y="909.6">R0603</text>
<text x="1296.7" y="920.1">R0603</text>
<text x="1296.7" y="940.4">R0603</text>
<text x="1296.7" y="950.6">R0603</text>
<text x="1296.7" y="971.4">R0603</text>
<text x="1296.7" y="981.9">R0603</text>
<text x="1236" y="1218.6" text-anchor="end">11</text>
<text x="1236" y="1240.3" text-anchor="end">8</text>
<text x="1236" y="1261" text-anchor="end">1</text>
<text x="1236" y="1271.3" text-anchor="end">2</text>
<text x="1236" y="1301.8" text-anchor="end">3</text>
<text x="1236" y="1312.2" text-anchor="end">4</text>
<text x="1236" y="1343" text-anchor="end">5</text>
<text x="1236" y="1353.4" text-anchor="end">6</text>
<text x="1236" y="1394.6" text-anchor="end">9</text>
<text x="1355.6" y="1218.6">10</text>
<text x="1355.6" y="1240.3">17</text>
<text x="1355.6" y="1250.7">16</text>
<text x="1355.6" y="1261">15</text>
<text x="1355.6" y="1271.3">14</text>
<text x="1355.6" y="1281.5">13</text>
<text x="1355.6" y="1291.8">12</text>
<text x="1355.6" y="1312.2">22</text>
<text x="1355.6" y="1322.6">23</text>
<text x="1355.6" y="1332.9">20</text>
<text x="1355.6" y="1343.1">21</text>
<text x="1355.6" y="1353.4">19</text>
<text x="1355.6" y="1363.5">18</text>
<text x="1355.6" y="1384.5">7</text>
<text x="1355.6" y="1394.6">24</text>
<text x="1161.4" y="1200.5">R0402</text>
<text x="1035.6" y="1225.2" text-anchor="end" letter-spacing="1">GND</text>
<text x="1141.2" y="1219.3">R0402</text>
<text x="1141.2" y="1241">R0402</text>
<text x="1170" y="1401.2" text-anchor="end" letter-spacing="1">GND</text>
<text x="1377.9" y="1177.5">VCC-3V3</text>
<text x="1462.3" y="1210.4">C0603</text>
<text x="1462.3" y="1231.4">C0402</text>
<text x="1546.1" y="1204.2" letter-spacing="1">GND</text>
</g>
<g fill="#ff0000" stroke="#ff0000" stroke-width="0.40">
<text x="177.8" y="69.7" font-size="9.50" textLength="69.0" lengthAdjust="spacingAndGlyphs">MIPI-CSI-RSTN0</text>
<text x="177.8" y="80.1" font-size="9.50" textLength="72.0" lengthAdjust="spacingAndGlyphs">MIPI-CSI-PWDN0</text>
<text x="177.8" y="90.4" font-size="9.50" textLength="55.5" lengthAdjust="spacingAndGlyphs">MCSI0-MCLK</text>
<text x="177.8" y="111.2" font-size="9.50" textLength="43.0" lengthAdjust="spacingAndGlyphs">TWI1-SCK</text>
<text x="177.8" y="121.5" font-size="9.50" textLength="43.0" lengthAdjust="spacingAndGlyphs">TWI1-SDA</text>
<text x="177.8" y="194.1" font-size="9.50" textLength="63.0" lengthAdjust="spacingAndGlyphs">MIPIA-CSI-D0P</text>
<text x="177.8" y="204.4" font-size="9.50" textLength="63.5" lengthAdjust="spacingAndGlyphs">MIPIA-CSI-D0N</text>
<text x="177.8" y="225.2" font-size="9.50" textLength="63.5" lengthAdjust="spacingAndGlyphs">MIPIC-CSI-D0P</text>
<text x="177.8" y="235.5" font-size="9.50" textLength="64.0" lengthAdjust="spacingAndGlyphs">MIPIC-CSI-D0N</text>
<text x="177.8" y="256.3" font-size="9.50" textLength="64.0" lengthAdjust="spacingAndGlyphs">MIPIA-CSI-CKP</text>
<text x="177.8" y="266.6" font-size="9.50" textLength="64.5" lengthAdjust="spacingAndGlyphs">MIPIA-CSI-CKN</text>
<text x="177.8" y="287.4" font-size="9.50" textLength="64.5" lengthAdjust="spacingAndGlyphs">MIPIC-CSI-CKP</text>
<text x="177.8" y="297.7" font-size="9.50" textLength="65.0" lengthAdjust="spacingAndGlyphs">MIPIC-CSI-CKN</text>
<text x="177.8" y="318.5" font-size="9.50" textLength="63.0" lengthAdjust="spacingAndGlyphs">MIPIB-CSI-D0P</text>
<text x="177.8" y="328.8" font-size="9.50" textLength="63.5" lengthAdjust="spacingAndGlyphs">MIPIB-CSI-D0N</text>
<text x="177.8" y="349.6" font-size="9.50" textLength="64.0" lengthAdjust="spacingAndGlyphs">MIPIB-CSI-CKP</text>
<text x="177.8" y="359.9" font-size="9.50" textLength="64.5" lengthAdjust="spacingAndGlyphs">MIPIB-CSI-CKN</text>
<text x="177.8" y="370.3" font-size="9.50" textLength="69.0" lengthAdjust="spacingAndGlyphs">MIPI-CSI-RSTN1</text>
<text x="177.8" y="380.6" font-size="9.50" textLength="72.0" lengthAdjust="spacingAndGlyphs">MIPI-CSI-PWDN1</text>
<text x="177.8" y="401.4" font-size="9.50" textLength="55.5" lengthAdjust="spacingAndGlyphs">MCSI1-MCLK</text>
<text x="177.8" y="422.1" font-size="9.50" textLength="72.0" lengthAdjust="spacingAndGlyphs">MIPI-CSI-PWDN2</text>
<text x="177.8" y="432.5" font-size="9.50" textLength="72.5" lengthAdjust="spacingAndGlyphs">IRLED-TWI3-SCK</text>
<text x="177.8" y="442.8" font-size="9.50" textLength="72.0" lengthAdjust="spacingAndGlyphs">WLED-TWI3-SDA</text>
<text x="157.2" y="132.1" font-size="9.50" textLength="65.0" lengthAdjust="spacingAndGlyphs">IR-CUT0-CTRL-</text>
<text x="157.2" y="152.8" font-size="9.50" textLength="67.3" lengthAdjust="spacingAndGlyphs">IR-CUT0-CTRL+</text>
<text x="177.8" y="411.9" font-size="9.50" textLength="55.5" lengthAdjust="spacingAndGlyphs">MCSI2-MCLK</text>
<text x="177.6" y="650.4" font-size="9.50" textLength="36.0" lengthAdjust="spacingAndGlyphs">MIPI-SW</text>
<text x="177.6" y="660.6" font-size="9.50" textLength="51.5" lengthAdjust="spacingAndGlyphs">CSI-SM-VS0</text>
<text x="177.6" y="670.6" font-size="9.50" textLength="51.5" lengthAdjust="spacingAndGlyphs">CSI-SM-VS1</text>
<text x="177.6" y="681.1" font-size="9.50" textLength="69.0" lengthAdjust="spacingAndGlyphs">MIPI-CSI-RSTN2</text>
<text x="769.9" y="69.7" font-size="9.50" textLength="69.0" lengthAdjust="spacingAndGlyphs">MIPI-CSI-RSTN0</text>
<text x="769.9" y="80.1" font-size="9.50" textLength="72.0" lengthAdjust="spacingAndGlyphs">MIPI-CSI-PWDN0</text>
<text x="769.9" y="90.4" font-size="9.50" textLength="55.5" lengthAdjust="spacingAndGlyphs">MCSI0-MCLK</text>
<text x="769.9" y="111.2" font-size="9.50" textLength="43.0" lengthAdjust="spacingAndGlyphs">TWI1-SCK</text>
<text x="769.9" y="121.5" font-size="9.50" textLength="43.0" lengthAdjust="spacingAndGlyphs">TWI1-SDA</text>
<text x="769.9" y="131.9" font-size="9.50" textLength="65.0" lengthAdjust="spacingAndGlyphs">IR-CUT0-CTRL-</text>
<text x="769.9" y="152.6" font-size="9.50" textLength="67.3" lengthAdjust="spacingAndGlyphs">IR-CUT0-CTRL+</text>
<text x="769.9" y="194.1" font-size="9.50" textLength="63.0" lengthAdjust="spacingAndGlyphs">MIPIA-CSI-D0P</text>
<text x="769.9" y="204.4" font-size="9.50" textLength="63.5" lengthAdjust="spacingAndGlyphs">MIPIA-CSI-D0N</text>
<text x="769.9" y="256.3" font-size="9.50" textLength="64.0" lengthAdjust="spacingAndGlyphs">MIPIA-CSI-CKP</text>
<text x="769.9" y="266.6" font-size="9.50" textLength="64.5" lengthAdjust="spacingAndGlyphs">MIPIA-CSI-CKN</text>
<text x="769.9" y="432.5" font-size="9.50" textLength="26.5" lengthAdjust="spacingAndGlyphs">IRLED</text>
<text x="769.9" y="442.8" font-size="9.50" textLength="26.0" lengthAdjust="spacingAndGlyphs">WLED</text>
<text x="768.6" y="660.8" font-size="9.50" textLength="51.5" lengthAdjust="spacingAndGlyphs">CSI-SM-VS0</text>
<text x="1350.1" y="69.7" font-size="9.50" textLength="69.0" lengthAdjust="spacingAndGlyphs">MIPI-CSI-RSTN1</text>
<text x="1350.1" y="80.1" font-size="9.50" textLength="72.0" lengthAdjust="spacingAndGlyphs">MIPI-CSI-PWDN1</text>
<text x="1350.1" y="90.4" font-size="9.50" textLength="55.5" lengthAdjust="spacingAndGlyphs">MCSI1-MCLK</text>
<text x="1350.1" y="111.2" font-size="9.50" textLength="43.0" lengthAdjust="spacingAndGlyphs">TWI1-SCK</text>
<text x="1350.1" y="121.5" font-size="9.50" textLength="43.0" lengthAdjust="spacingAndGlyphs">TWI1-SDA</text>
<text x="1350.1" y="131.9" font-size="9.50" textLength="65.0" lengthAdjust="spacingAndGlyphs">IR-CUT1-CTRL-</text>
<text x="1350.1" y="152.6" font-size="9.50" textLength="67.3" lengthAdjust="spacingAndGlyphs">IR-CUT1-CTRL+</text>
<text x="1350.1" y="194.1" font-size="9.50" textLength="63.0" lengthAdjust="spacingAndGlyphs">MIPIB-CSI-D0P</text>
<text x="1350.1" y="204.4" font-size="9.50" textLength="63.5" lengthAdjust="spacingAndGlyphs">MIPIB-CSI-D0N</text>
<text x="1350.1" y="256.3" font-size="9.50" textLength="64.0" lengthAdjust="spacingAndGlyphs">MIPIB-CSI-CKP</text>
<text x="1350.1" y="266.6" font-size="9.50" textLength="64.5" lengthAdjust="spacingAndGlyphs">MIPIB-CSI-CKN</text>
<text x="1350.1" y="432.5" font-size="9.50" textLength="26.5" lengthAdjust="spacingAndGlyphs">IRLED</text>
<text x="1350.1" y="442.8" font-size="9.50" textLength="26.0" lengthAdjust="spacingAndGlyphs">WLED</text>
<text x="1350.3" y="670.7" font-size="9.50" textLength="51.5" lengthAdjust="spacingAndGlyphs">CSI-SM-VS0</text>
<text x="1962.4" y="69.7" font-size="9.50" textLength="69.0" lengthAdjust="spacingAndGlyphs">MIPI-CSI-RSTN2</text>
<text x="1962.4" y="80.1" font-size="9.50" textLength="72.0" lengthAdjust="spacingAndGlyphs">MIPI-CSI-PWDN2</text>
<text x="1962.4" y="90.4" font-size="9.50" textLength="55.5" lengthAdjust="spacingAndGlyphs">MCSI2-MCLK</text>
<text x="1962.4" y="111.2" font-size="9.50" textLength="43.0" lengthAdjust="spacingAndGlyphs">TWI2-SCK</text>
<text x="1962.4" y="121.5" font-size="9.50" textLength="43.0" lengthAdjust="spacingAndGlyphs">TWI2-SDA</text>
<text x="1962.4" y="131.9" font-size="9.50" textLength="65.0" lengthAdjust="spacingAndGlyphs">IR-CUT1-CTRL-</text>
<text x="1962.4" y="152.6" font-size="9.50" textLength="67.3" lengthAdjust="spacingAndGlyphs">IR-CUT1-CTRL+</text>
<text x="1962.4" y="194.1" font-size="9.50" textLength="66.5" lengthAdjust="spacingAndGlyphs">C-MIPI-CSI-D1P</text>
<text x="1962.4" y="204.4" font-size="9.50" textLength="67.0" lengthAdjust="spacingAndGlyphs">C-MIPI-CSI-D1N</text>
<text x="1962.4" y="256.3" font-size="9.50" textLength="67.5" lengthAdjust="spacingAndGlyphs">C-MIPI-CSI-CKP</text>
<text x="1962.4" y="266.6" font-size="9.50" textLength="68.0" lengthAdjust="spacingAndGlyphs">C-MIPI-CSI-CKN</text>
<text x="1962.4" y="432.5" font-size="9.50" textLength="26.5" lengthAdjust="spacingAndGlyphs">IRLED</text>
<text x="1962.4" y="442.8" font-size="9.50" textLength="26.0" lengthAdjust="spacingAndGlyphs">WLED</text>
<text x="1929.8" y="671.1" font-size="9.50" textLength="51.5" lengthAdjust="spacingAndGlyphs">CSI-SM-VS0</text>
<text x="1929.8" y="691.7" font-size="9.50" textLength="51.5" lengthAdjust="spacingAndGlyphs">CSI-SM-VS1</text>
<text x="1817.5" y="909.7" font-size="9.50" textLength="69.0" lengthAdjust="spacingAndGlyphs">MIPI-CSI-RSTN2</text>
<text x="1817.5" y="920" font-size="9.50" textLength="72.0" lengthAdjust="spacingAndGlyphs">MIPI-CSI-PWDN2</text>
<text x="1817.5" y="930.4" font-size="9.50" textLength="55.5" lengthAdjust="spacingAndGlyphs">MCSI2-MCLK</text>
<text x="1817.5" y="951" font-size="9.50" textLength="43.0" lengthAdjust="spacingAndGlyphs">TWI2-SCK</text>
<text x="1817.5" y="961.4" font-size="9.50" textLength="43.0" lengthAdjust="spacingAndGlyphs">TWI2-SDA</text>
<text x="1817.5" y="971.7" font-size="9.50" textLength="65.0" lengthAdjust="spacingAndGlyphs">IR-CUT1-CTRL-</text>
<text x="1817.5" y="992.4" font-size="9.50" textLength="67.3" lengthAdjust="spacingAndGlyphs">IR-CUT1-CTRL+</text>
<text x="1817.5" y="1033.7" font-size="9.50" textLength="66.5" lengthAdjust="spacingAndGlyphs">D-MIPI-CSI-D1P</text>
<text x="1817.5" y="1044.1" font-size="9.50" textLength="67.0" lengthAdjust="spacingAndGlyphs">D-MIPI-CSI-D1N</text>
<text x="1817.5" y="1095.7" font-size="9.50" textLength="67.5" lengthAdjust="spacingAndGlyphs">D-MIPI-CSI-CKP</text>
<text x="1817.5" y="1106.1" font-size="9.50" textLength="68.0" lengthAdjust="spacingAndGlyphs">D-MIPI-CSI-CKN</text>
<text x="1817.5" y="1271.4" font-size="9.50" textLength="26.5" lengthAdjust="spacingAndGlyphs">IRLED</text>
<text x="1817.5" y="1281.8" font-size="9.50" textLength="26.0" lengthAdjust="spacingAndGlyphs">WLED</text>
<text x="1784.6" y="1509.3" font-size="9.50" textLength="51.5" lengthAdjust="spacingAndGlyphs">CSI-SM-VS0</text>
<text x="1784.6" y="1529.9" font-size="9.50" textLength="51.5" lengthAdjust="spacingAndGlyphs">CSI-SM-VS1</text>
<text x="1131.8" y="909.6" font-size="9.50" textLength="43.0" lengthAdjust="spacingAndGlyphs">TWI1-SCK</text>
<text x="1131.8" y="920.1" font-size="9.50" textLength="43.0" lengthAdjust="spacingAndGlyphs">TWI1-SDA</text>
<text x="1131.8" y="940.4" font-size="9.50" textLength="72.5" lengthAdjust="spacingAndGlyphs">IRLED-TWI3-SCK</text>
<text x="1370.1" y="940.4" font-size="9.50" textLength="43.0" lengthAdjust="spacingAndGlyphs">TWI2-SCK</text>
<text x="1131.8" y="950.6" font-size="9.50" textLength="72.0" lengthAdjust="spacingAndGlyphs">WLED-TWI3-SDA</text>
<text x="1370.1" y="950.6" font-size="9.50" textLength="43.0" lengthAdjust="spacingAndGlyphs">TWI2-SDA</text>
<text x="1131.8" y="971.4" font-size="9.50" textLength="72.5" lengthAdjust="spacingAndGlyphs">IRLED-TWI3-SCK</text>
<text x="1370.1" y="971.4" font-size="9.50" textLength="26.5" lengthAdjust="spacingAndGlyphs">IRLED</text>
<text x="1131.8" y="981.9" font-size="9.50" textLength="72.0" lengthAdjust="spacingAndGlyphs">WLED-TWI3-SDA</text>
<text x="1370.1" y="981.9" font-size="9.50" textLength="26.0" lengthAdjust="spacingAndGlyphs">WLED</text>
<text x="1453.2" y="1241" font-size="9.50" textLength="67.5" lengthAdjust="spacingAndGlyphs">C-MIPI-CSI-CKP</text>
<text x="1453.2" y="1251.4" font-size="9.50" textLength="68.0" lengthAdjust="spacingAndGlyphs">C-MIPI-CSI-CKN</text>
<text x="1453.2" y="1261.7" font-size="9.50" textLength="66.5" lengthAdjust="spacingAndGlyphs">C-MIPI-CSI-D1P</text>
<text x="1453.2" y="1272" font-size="9.50" textLength="67.0" lengthAdjust="spacingAndGlyphs">C-MIPI-CSI-D1N</text>
<text x="1453.2" y="1312.9" font-size="9.50" textLength="67.5" lengthAdjust="spacingAndGlyphs">D-MIPI-CSI-CKP</text>
<text x="1453.2" y="1323.3" font-size="9.50" textLength="68.0" lengthAdjust="spacingAndGlyphs">D-MIPI-CSI-CKN</text>
<text x="1453.2" y="1333.6" font-size="9.50" textLength="66.5" lengthAdjust="spacingAndGlyphs">D-MIPI-CSI-D1P</text>
<text x="1453.2" y="1343.8" font-size="9.50" textLength="67.0" lengthAdjust="spacingAndGlyphs">D-MIPI-CSI-D1N</text>
<text x="1050" y="1261.7" font-size="9.50" textLength="64.5" lengthAdjust="spacingAndGlyphs">MIPIC-CSI-CKP</text>
<text x="1050" y="1272" font-size="9.50" textLength="65.0" lengthAdjust="spacingAndGlyphs">MIPIC-CSI-CKN</text>
<text x="1050" y="1302.5" font-size="9.50" textLength="63.5" lengthAdjust="spacingAndGlyphs">MIPIC-CSI-D0P</text>
<text x="1050" y="1312.9" font-size="9.50" textLength="64.0" lengthAdjust="spacingAndGlyphs">MIPIC-CSI-D0N</text>
<text x="1059.7" y="1188.2" font-size="9.50" textLength="36.0" lengthAdjust="spacingAndGlyphs">MIPI-SW</text>
</g>
<text transform="scale(0.9200 1)" x="371.97 384.28 399.23" y="18.5" class="t">TOP</text>
<text x="259.1 264.5 270.8 282.2 287.6 293.5" y="183.3" fill="#008000" font-size="7.5" font-weight="bold">100ohm</text>
<text transform="scale(0.9200 1)" x="913.06 925.37 940.31" y="28.8" class="t">TOP</text>
<text transform="scale(0.9200 1)" x="1079.66 1092.51 1104.82 1119.77 1131.56 1145.46 1162.79 1171.67" y="28.8" class="t">SENSOR&#160;A</text>
<text x="964" y="620" fill="#008000" font-size="9" textLength="30" lengthAdjust="spacingAndGlyphs">FPC50P</text>
<text x="1000.6" y="620" fill="#008000" font-size="9" textLength="26.8" lengthAdjust="spacingAndGlyphs">0.5mm</text>
<text x="851.2 856.6 862.9 874.3 879.7 885.6" y="286.8" fill="#008000" font-size="7.5" font-weight="bold">100ohm</text>
<text transform="scale(0.9200 1)" x="1578.71 1591.02 1605.97" y="28.8" class="t">TOP</text>
<text transform="scale(0.9200 1)" x="1723.36 1736.21 1748.52 1763.47 1775.26 1789.15 1806.48 1815.89" y="28.8" class="t">SENSOR&#160;B</text>
<text x="1535.5" y="640" fill="#008000" font-size="9" textLength="30" lengthAdjust="spacingAndGlyphs">FPC50P</text>
<text x="1572.1" y="640" fill="#008000" font-size="9" textLength="26.8" lengthAdjust="spacingAndGlyphs">0.5mm</text>
<text x="1431.3 1436.7 1443.0 1454.4 1459.8 1465.7" y="286.9" fill="#008000" font-size="7.5" font-weight="bold">100ohm</text>
<text transform="scale(0.9200 1)" x="2244.03 2256.35 2271.29" y="29" class="t">TOP</text>
<text transform="scale(0.9200 1)" x="2387.60 2400.45 2412.76 2427.71 2439.50 2453.39 2470.72 2480.13" y="29" class="t">SENSOR&#160;C</text>
<text x="2146.6" y="640" fill="#008000" font-size="9" textLength="30" lengthAdjust="spacingAndGlyphs">FPC50P</text>
<text x="2183.2" y="640" fill="#008000" font-size="9" textLength="26.8" lengthAdjust="spacingAndGlyphs">0.5mm</text>
<text x="2043.3 2048.7 2055.0 2066.4 2071.8 2077.7" y="286.9" fill="#008000" font-size="7.5" font-weight="bold">100ohm</text>
<text transform="scale(0.9200 1)" x="2097.73 2110.04 2124.99" y="868.5" class="t">TOP</text>
<text transform="scale(0.9200 1)" x="2230.31 2243.16 2255.48 2270.42 2282.22 2296.11 2313.44 2322.32" y="868.5" class="t">SENSOR&#160;D</text>
<text x="2001.5" y="1469" fill="#008000" font-size="9" textLength="30" lengthAdjust="spacingAndGlyphs">FPC50P</text>
<text x="2038.1" y="1469" fill="#008000" font-size="9" textLength="26.8" lengthAdjust="spacingAndGlyphs">0.5mm</text>
<text x="1897.9 1903.3 1909.6 1921.0 1926.4 1932.3" y="1125.7" fill="#008000" font-size="7.5" font-weight="bold">100ohm</text>
<text x="62.5" y="812.5" class="m" textLength="18.9" lengthAdjust="spacingAndGlyphs">IO</text>
<text x="134.4" y="812.5" class="m" textLength="94.5" lengthAdjust="spacingAndGlyphs">MIPI-1lane</text>
<text x="279.2" y="812.5" class="m" textLength="94.5" lengthAdjust="spacingAndGlyphs">MIPI-2lane</text>
<text x="393.2" y="812.5" class="m" textLength="101.5" lengthAdjust="spacingAndGlyphs">MIPI-3Lane</text>
<text x="538.2" y="812.5" class="m" textLength="101.5" lengthAdjust="spacingAndGlyphs">MIPI-4Lane</text>
<text x="52.4" y="832.9" class="m" textLength="29.1" lengthAdjust="spacingAndGlyphs">PA0</text>
<text x="93.8" y="832.9" class="m" textLength="131.1" lengthAdjust="spacingAndGlyphs">MIPIA-CSI-CKP</text>
<text x="238.5" y="832.9" class="m" textLength="131.1" lengthAdjust="spacingAndGlyphs">MIPIA-CSI-CKP</text>
<text x="383.7" y="832.9" class="m" textLength="131.1" lengthAdjust="spacingAndGlyphs">MIPI-CSI-CK0P</text>
<text x="528.6" y="832.9" class="m" textLength="131.1" lengthAdjust="spacingAndGlyphs">MIPI-CSI-CK0P</text>
<text x="52.4" y="843" class="m" textLength="29.1" lengthAdjust="spacingAndGlyphs">PA1</text>
<text x="93.8" y="843" class="m" textLength="131.1" lengthAdjust="spacingAndGlyphs">MIPIA-CSI-CKN</text>
<text x="238.5" y="843" class="m" textLength="131.1" lengthAdjust="spacingAndGlyphs">MIPIA-CSI-CKN</text>
<text x="383.7" y="843" class="m" textLength="131.1" lengthAdjust="spacingAndGlyphs">MIPI-CSI-CK0N</text>
<text x="528.6" y="843" class="m" textLength="131.1" lengthAdjust="spacingAndGlyphs">MIPI-CSI-CK0N</text>
<text x="52.4" y="853.2" class="m" textLength="29.1" lengthAdjust="spacingAndGlyphs">PA2</text>
<text x="93.8" y="853.2" class="m" textLength="131.1" lengthAdjust="spacingAndGlyphs">MIPIA-CSI-D0P</text>
<text x="238.5" y="853.2" class="m" textLength="131.1" lengthAdjust="spacingAndGlyphs">MIPIA-CSI-D0P</text>
<text x="383.7" y="853.2" class="m" textLength="120.9" lengthAdjust="spacingAndGlyphs">MIPI-CSI-D0P</text>
<text x="528.6" y="853.2" class="m" textLength="120.9" lengthAdjust="spacingAndGlyphs">MIPI-CSI-D0P</text>
<text x="52.4" y="863.4" class="m" textLength="29.1" lengthAdjust="spacingAndGlyphs">PA3</text>
<text x="93.8" y="863.4" class="m" textLength="131.1" lengthAdjust="spacingAndGlyphs">MIPIA-CSI-D0N</text>
<text x="238.5" y="863.4" class="m" textLength="131.1" lengthAdjust="spacingAndGlyphs">MIPIA-CSI-D0N</text>
<text x="383.7" y="863.4" class="m" textLength="120.9" lengthAdjust="spacingAndGlyphs">MIPI-CSI-D0N</text>
<text x="528.6" y="863.4" class="m" textLength="120.9" lengthAdjust="spacingAndGlyphs">MIPI-CSI-D0N</text>
<text x="52.4" y="883" class="m" textLength="29.1" lengthAdjust="spacingAndGlyphs">PA4</text>
<text x="93.8" y="883" class="m" textLength="131.1" lengthAdjust="spacingAndGlyphs">MIPIC-CSI-D0P</text>
<text x="383.7" y="883" class="m" textLength="120.9" lengthAdjust="spacingAndGlyphs">MIPI-CSI-D1P</text>
<text x="528.6" y="883" class="m" textLength="120.9" lengthAdjust="spacingAndGlyphs">MIPI-CSI-D1P</text>
<text x="52.4" y="893.2" class="m" textLength="29.1" lengthAdjust="spacingAndGlyphs">PA5</text>
<text x="93.8" y="893.2" class="m" textLength="131.1" lengthAdjust="spacingAndGlyphs">MIPIC-CSI-D0N</text>
<text x="383.7" y="893.2" class="m" textLength="120.9" lengthAdjust="spacingAndGlyphs">MIPI-CSI-D1N</text>
<text x="528.6" y="893.2" class="m" textLength="120.9" lengthAdjust="spacingAndGlyphs">MIPI-CSI-D1N</text>
<text x="52.4" y="903.3" class="m" textLength="29.1" lengthAdjust="spacingAndGlyphs">PA6</text>
<text x="93.8" y="903.3" class="m" textLength="131.1" lengthAdjust="spacingAndGlyphs">MIPIC-CSI-CKP</text>
<text x="383.7" y="903.3" class="m" textLength="120.9" lengthAdjust="spacingAndGlyphs">MIPI-CSI-D2P</text>
<text x="528.6" y="903.3" class="m" textLength="120.9" lengthAdjust="spacingAndGlyphs">MIPI-CSI-D2P</text>
<text x="52.4" y="913.5" class="m" textLength="29.1" lengthAdjust="spacingAndGlyphs">PA7</text>
<text x="93.8" y="913.5" class="m" textLength="131.1" lengthAdjust="spacingAndGlyphs">MIPIC-CSI-CKN</text>
<text x="383.7" y="913.5" class="m" textLength="120.9" lengthAdjust="spacingAndGlyphs">MIPI-CSI-D2N</text>
<text x="528.6" y="913.5" class="m" textLength="120.9" lengthAdjust="spacingAndGlyphs">MIPI-CSI-D2N</text>
<text x="238.5" y="873.3" class="m" textLength="131.1" lengthAdjust="spacingAndGlyphs">MIPIA-CSI-D1P</text>
<text x="238.5" y="883" class="m" textLength="131.1" lengthAdjust="spacingAndGlyphs">MIPIA-CSI-D1N</text>
<text x="52.4" y="935.3" class="m" textLength="29.1" lengthAdjust="spacingAndGlyphs">PA8</text>
<text x="93.8" y="935.3" class="m" textLength="131.1" lengthAdjust="spacingAndGlyphs">MIPIB-CSI-D0P</text>
<text x="52.4" y="945.5" class="m" textLength="29.1" lengthAdjust="spacingAndGlyphs">PA9</text>
<text x="93.8" y="945.5" class="m" textLength="131.1" lengthAdjust="spacingAndGlyphs">MIPIB-CSI-D0N</text>
<text x="52.4" y="955.7" class="m" textLength="38.1" lengthAdjust="spacingAndGlyphs">PA10</text>
<text x="93.8" y="955.7" class="m" textLength="131.1" lengthAdjust="spacingAndGlyphs">MIPIB-CSI-CKP</text>
<text x="52.4" y="966.5" class="m" textLength="38.1" lengthAdjust="spacingAndGlyphs">PA11</text>
<text x="93.8" y="966.5" class="m" textLength="131.1" lengthAdjust="spacingAndGlyphs">MIPIB-CSI-CKN</text>
<text x="238.5" y="913.5" class="m" textLength="131.1" lengthAdjust="spacingAndGlyphs">MIPIB-CSI-D1P</text>
<text x="238.5" y="923.7" class="m" textLength="131.1" lengthAdjust="spacingAndGlyphs">MIPIB-CSI-D1N</text>
<text x="238.5" y="935.3" class="m" textLength="131.1" lengthAdjust="spacingAndGlyphs">MIPIB-CSI-D0P</text>
<text x="238.5" y="945.5" class="m" textLength="131.1" lengthAdjust="spacingAndGlyphs">MIPIB-CSI-D0N</text>
<text x="238.5" y="955.7" class="m" textLength="131.1" lengthAdjust="spacingAndGlyphs">MIPIB-CSI-CKP</text>
<text x="238.5" y="966.5" class="m" textLength="131.1" lengthAdjust="spacingAndGlyphs">MIPIB-CSI-CKN</text>
<text x="528.6" y="936.3" class="m" textLength="120.9" lengthAdjust="spacingAndGlyphs">MIPI-CSI-D3P</text>
<text x="528.6" y="946.5" class="m" textLength="120.9" lengthAdjust="spacingAndGlyphs">MIPI-CSI-D3N</text>
</svg></body></html>
